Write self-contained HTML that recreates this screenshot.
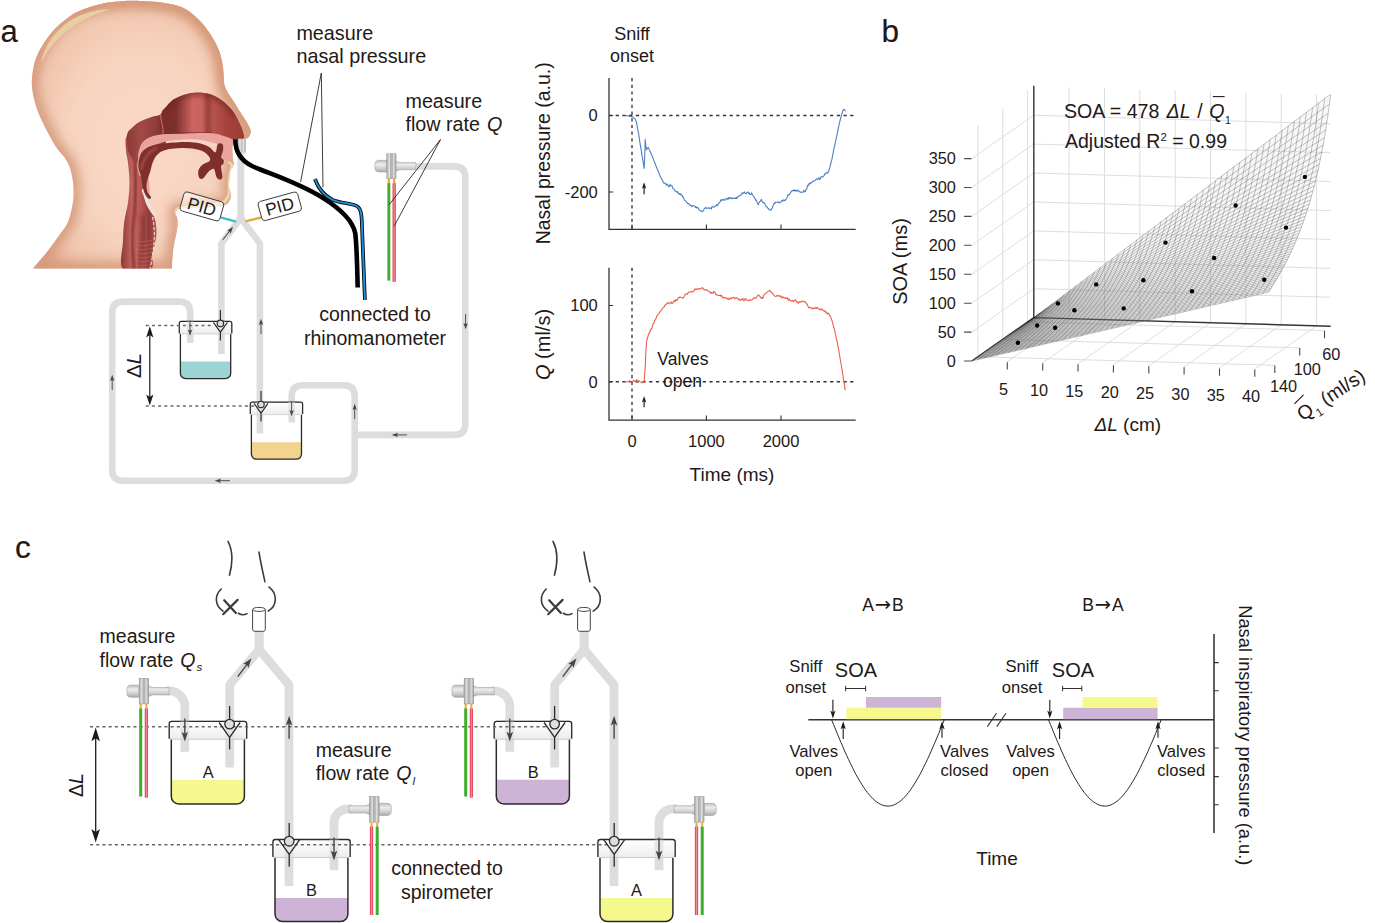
<!DOCTYPE html>
<html><head><meta charset="utf-8"><title>Figure</title>
<style>
html,body{margin:0;padding:0;background:#fff;}
svg{display:block}
text{font-family:"Liberation Sans",sans-serif;fill:#231815}
.it{font-style:italic}
</style></head><body>
<svg width="1375" height="923" viewBox="0 0 1375 923">
<rect width="1375" height="923" fill="#fff"/>
<defs>
<radialGradient id="skin" cx="0.52" cy="0.52" r="0.62" fx="0.5" fy="0.55">
<stop offset="0" stop-color="#f9d8c5"/><stop offset="0.55" stop-color="#f7d4c0"/><stop offset="0.85" stop-color="#f0c5ae"/><stop offset="1" stop-color="#e4ae94"/>
</radialGradient>
<clipPath id="headclip"><path d="M33.0,268.5C35.3,265.8 42.8,257.2 47.0,252.0C51.2,246.8 54.7,241.7 58.0,237.0C61.3,232.3 64.8,228.2 67.0,224.0C69.2,219.8 69.9,216.5 71.0,212.0C72.1,207.5 73.2,202.0 73.5,197.0C73.8,192.0 73.6,186.8 73.0,182.0C72.4,177.2 71.3,172.0 70.0,168.0C68.7,164.0 67.2,161.3 65.0,158.0C62.8,154.7 59.9,152.8 56.7,148.0C53.5,143.2 49.4,135.7 46.0,129.0C42.6,122.3 38.9,115.0 36.6,108.0C34.3,101.0 32.6,93.3 32.0,87.0C31.4,80.7 32.2,75.0 33.0,70.0C33.8,65.0 34.9,61.2 36.5,57.0C38.1,52.8 40.1,49.2 42.7,45.0C45.3,40.8 48.5,36.0 52.0,32.0C55.5,28.0 59.6,24.2 63.6,21.0C67.6,17.8 71.6,14.8 76.0,12.5C80.4,10.2 85.3,8.6 90.0,7.0C94.7,5.5 99.3,4.1 104.0,3.2C108.7,2.3 113.7,1.9 118.0,1.5C122.3,1.1 126.0,0.9 130.0,0.8C134.0,0.7 137.0,0.8 142.0,1.0C147.0,1.2 154.2,1.5 160.0,2.2C165.8,3.0 172.5,4.2 177.0,5.5C181.5,6.8 184.1,8.3 187.0,10.0C189.9,11.7 192.0,13.5 194.5,15.7C197.0,17.9 199.7,20.4 202.0,23.0C204.3,25.6 206.4,28.4 208.5,31.4C210.6,34.4 212.8,37.8 214.5,41.0C216.2,44.2 217.8,47.3 219.0,50.6C220.2,53.9 221.3,57.8 222.0,61.0C222.7,64.2 223.0,67.2 223.3,70.0C223.6,72.8 223.6,75.5 223.8,78.0C224.0,80.5 223.8,82.6 224.5,85.0C225.2,87.4 226.1,89.7 227.7,92.5C229.3,95.3 231.9,98.8 234.0,102.0C236.1,105.2 238.2,108.8 240.0,111.7C241.8,114.6 243.6,117.2 245.0,119.5C246.4,121.8 247.8,124.0 248.7,125.7C249.6,127.5 250.3,128.7 250.6,130.0C250.9,131.3 250.7,132.5 250.4,133.7C250.1,134.9 249.5,136.4 248.6,137.3C247.7,138.2 246.4,138.8 245.0,139.3C243.6,139.8 241.7,139.9 240.0,140.3C238.3,140.7 236.2,140.9 235.0,141.5C233.8,142.1 233.4,142.6 233.0,144.0C232.6,145.4 232.3,147.5 232.3,150.0C232.3,152.5 232.7,157.0 232.9,159.2C233.1,161.4 233.7,161.8 233.7,163.0C233.7,164.2 233.5,165.4 233.0,166.5C232.5,167.6 231.5,168.0 230.9,169.6C230.3,171.2 229.9,173.3 229.6,176.2C229.3,179.0 228.9,184.2 229.0,186.7C229.1,189.2 229.9,189.7 230.2,191.0C230.5,192.3 230.9,193.2 230.9,194.5C230.9,195.8 230.7,197.7 230.3,199.0C229.9,200.3 229.0,201.5 228.3,202.4C227.6,203.3 226.9,204.1 226.0,204.6C225.1,205.1 225.3,205.3 223.0,205.6C220.7,205.9 215.8,206.2 212.0,206.5C208.2,206.8 204.0,207.1 200.0,207.3C196.0,207.6 191.4,207.8 188.0,208.0C184.6,208.2 181.4,208.1 179.5,208.6C177.6,209.1 176.9,210.0 176.3,211.0C175.7,212.0 175.7,213.3 175.8,214.5C176.0,215.7 176.9,216.6 177.2,218.0C177.5,219.4 177.6,221.2 177.6,223.0C177.6,224.8 177.5,226.5 177.2,228.5C176.9,230.5 176.4,232.8 176.0,235.0C175.6,237.2 175.0,239.4 174.6,241.6C174.2,243.8 173.8,245.8 173.5,248.0C173.2,250.2 172.9,252.5 172.7,254.7C172.5,256.9 172.3,258.7 172.2,261.0C172.1,263.3 172.0,267.2 172.0,268.5Z"/></clipPath>
<filter id="blur3" x="-20%" y="-20%" width="140%" height="140%"><feGaussianBlur stdDeviation="3.2"/></filter>
<filter id="blur5" x="-20%" y="-20%" width="140%" height="140%"><feGaussianBlur stdDeviation="5.5"/></filter>
<filter id="blur1" x="-20%" y="-20%" width="140%" height="140%"><feGaussianBlur stdDeviation="1.2"/></filter>
<filter id="blur2" x="-20%" y="-20%" width="140%" height="140%"><feGaussianBlur stdDeviation="2"/></filter>
<linearGradient id="throatg" x1="0" x2="1" y1="0" y2="0">
<stop offset="0" stop-color="#8a3a36"/><stop offset="0.25" stop-color="#c46460"/><stop offset="0.45" stop-color="#b85652"/><stop offset="0.62" stop-color="#8e3b37"/><stop offset="0.8" stop-color="#b05350"/><stop offset="1" stop-color="#8a3936"/>
</linearGradient>
<linearGradient id="domeg" gradientUnits="userSpaceOnUse" x1="127" x2="244" y1="0" y2="0">
<stop offset="0" stop-color="#8a3a36"/><stop offset="0.12" stop-color="#a34a46"/><stop offset="0.26" stop-color="#8e3b37"/><stop offset="0.30" stop-color="#7b2d2a"/><stop offset="0.42" stop-color="#7f302c"/><stop offset="0.5" stop-color="#aa4f4b"/><stop offset="0.56" stop-color="#cb6562"/><stop offset="0.64" stop-color="#c9625f"/><stop offset="0.69" stop-color="#9a403d"/><stop offset="0.74" stop-color="#b8524e"/><stop offset="0.85" stop-color="#a5433e"/><stop offset="1" stop-color="#9b3b36"/>
</linearGradient>
</defs>
<path d="M33.0,268.5C35.3,265.8 42.8,257.2 47.0,252.0C51.2,246.8 54.7,241.7 58.0,237.0C61.3,232.3 64.8,228.2 67.0,224.0C69.2,219.8 69.9,216.5 71.0,212.0C72.1,207.5 73.2,202.0 73.5,197.0C73.8,192.0 73.6,186.8 73.0,182.0C72.4,177.2 71.3,172.0 70.0,168.0C68.7,164.0 67.2,161.3 65.0,158.0C62.8,154.7 59.9,152.8 56.7,148.0C53.5,143.2 49.4,135.7 46.0,129.0C42.6,122.3 38.9,115.0 36.6,108.0C34.3,101.0 32.6,93.3 32.0,87.0C31.4,80.7 32.2,75.0 33.0,70.0C33.8,65.0 34.9,61.2 36.5,57.0C38.1,52.8 40.1,49.2 42.7,45.0C45.3,40.8 48.5,36.0 52.0,32.0C55.5,28.0 59.6,24.2 63.6,21.0C67.6,17.8 71.6,14.8 76.0,12.5C80.4,10.2 85.3,8.6 90.0,7.0C94.7,5.5 99.3,4.1 104.0,3.2C108.7,2.3 113.7,1.9 118.0,1.5C122.3,1.1 126.0,0.9 130.0,0.8C134.0,0.7 137.0,0.8 142.0,1.0C147.0,1.2 154.2,1.5 160.0,2.2C165.8,3.0 172.5,4.2 177.0,5.5C181.5,6.8 184.1,8.3 187.0,10.0C189.9,11.7 192.0,13.5 194.5,15.7C197.0,17.9 199.7,20.4 202.0,23.0C204.3,25.6 206.4,28.4 208.5,31.4C210.6,34.4 212.8,37.8 214.5,41.0C216.2,44.2 217.8,47.3 219.0,50.6C220.2,53.9 221.3,57.8 222.0,61.0C222.7,64.2 223.0,67.2 223.3,70.0C223.6,72.8 223.6,75.5 223.8,78.0C224.0,80.5 223.8,82.6 224.5,85.0C225.2,87.4 226.1,89.7 227.7,92.5C229.3,95.3 231.9,98.8 234.0,102.0C236.1,105.2 238.2,108.8 240.0,111.7C241.8,114.6 243.6,117.2 245.0,119.5C246.4,121.8 247.8,124.0 248.7,125.7C249.6,127.5 250.3,128.7 250.6,130.0C250.9,131.3 250.7,132.5 250.4,133.7C250.1,134.9 249.5,136.4 248.6,137.3C247.7,138.2 246.4,138.8 245.0,139.3C243.6,139.8 241.7,139.9 240.0,140.3C238.3,140.7 236.2,140.9 235.0,141.5C233.8,142.1 233.4,142.6 233.0,144.0C232.6,145.4 232.3,147.5 232.3,150.0C232.3,152.5 232.7,157.0 232.9,159.2C233.1,161.4 233.7,161.8 233.7,163.0C233.7,164.2 233.5,165.4 233.0,166.5C232.5,167.6 231.5,168.0 230.9,169.6C230.3,171.2 229.9,173.3 229.6,176.2C229.3,179.0 228.9,184.2 229.0,186.7C229.1,189.2 229.9,189.7 230.2,191.0C230.5,192.3 230.9,193.2 230.9,194.5C230.9,195.8 230.7,197.7 230.3,199.0C229.9,200.3 229.0,201.5 228.3,202.4C227.6,203.3 226.9,204.1 226.0,204.6C225.1,205.1 225.3,205.3 223.0,205.6C220.7,205.9 215.8,206.2 212.0,206.5C208.2,206.8 204.0,207.1 200.0,207.3C196.0,207.6 191.4,207.8 188.0,208.0C184.6,208.2 181.4,208.1 179.5,208.6C177.6,209.1 176.9,210.0 176.3,211.0C175.7,212.0 175.7,213.3 175.8,214.5C176.0,215.7 176.9,216.6 177.2,218.0C177.5,219.4 177.6,221.2 177.6,223.0C177.6,224.8 177.5,226.5 177.2,228.5C176.9,230.5 176.4,232.8 176.0,235.0C175.6,237.2 175.0,239.4 174.6,241.6C174.2,243.8 173.8,245.8 173.5,248.0C173.2,250.2 172.9,252.5 172.7,254.7C172.5,256.9 172.3,258.7 172.2,261.0C172.1,263.3 172.0,267.2 172.0,268.5Z" fill="url(#skin)"/>
<g clip-path="url(#headclip)"><path d="M33.0,268.5C35.3,265.8 42.8,257.2 47.0,252.0C51.2,246.8 54.7,241.7 58.0,237.0C61.3,232.3 64.8,228.2 67.0,224.0C69.2,219.8 69.9,216.5 71.0,212.0C72.1,207.5 73.2,202.0 73.5,197.0C73.8,192.0 73.6,186.8 73.0,182.0C72.4,177.2 71.3,172.0 70.0,168.0C68.7,164.0 67.2,161.3 65.0,158.0C62.8,154.7 59.9,152.8 56.7,148.0C53.5,143.2 49.4,135.7 46.0,129.0C42.6,122.3 38.9,115.0 36.6,108.0C34.3,101.0 32.6,93.3 32.0,87.0C31.4,80.7 32.2,75.0 33.0,70.0C33.8,65.0 34.9,61.2 36.5,57.0C38.1,52.8 40.1,49.2 42.7,45.0C45.3,40.8 48.5,36.0 52.0,32.0C55.5,28.0 59.6,24.2 63.6,21.0C67.6,17.8 71.6,14.8 76.0,12.5C80.4,10.2 85.3,8.6 90.0,7.0C94.7,5.5 99.3,4.1 104.0,3.2C108.7,2.3 113.7,1.9 118.0,1.5C122.3,1.1 126.0,0.9 130.0,0.8C134.0,0.7 137.0,0.8 142.0,1.0C147.0,1.2 154.2,1.5 160.0,2.2C165.8,3.0 172.5,4.2 177.0,5.5C181.5,6.8 184.1,8.3 187.0,10.0C189.9,11.7 192.0,13.5 194.5,15.7C197.0,17.9 199.7,20.4 202.0,23.0C204.3,25.6 206.4,28.4 208.5,31.4C210.6,34.4 212.8,37.8 214.5,41.0C216.2,44.2 217.8,47.3 219.0,50.6C220.2,53.9 221.3,57.8 222.0,61.0C222.7,64.2 223.0,67.2 223.3,70.0C223.6,72.8 223.6,75.5 223.8,78.0C224.0,80.5 223.8,82.6 224.5,85.0C225.2,87.4 226.1,89.7 227.7,92.5C229.3,95.3 231.9,98.8 234.0,102.0C236.1,105.2 238.2,108.8 240.0,111.7C241.8,114.6 243.6,117.2 245.0,119.5C246.4,121.8 247.8,124.0 248.7,125.7C249.6,127.5 250.3,128.7 250.6,130.0C250.9,131.3 250.7,132.5 250.4,133.7C250.1,134.9 249.5,136.4 248.6,137.3C247.7,138.2 246.4,138.8 245.0,139.3C243.6,139.8 241.7,139.9 240.0,140.3C238.3,140.7 236.2,140.9 235.0,141.5C233.8,142.1 233.4,142.6 233.0,144.0C232.6,145.4 232.3,147.5 232.3,150.0C232.3,152.5 232.7,157.0 232.9,159.2C233.1,161.4 233.7,161.8 233.7,163.0C233.7,164.2 233.5,165.4 233.0,166.5C232.5,167.6 231.5,168.0 230.9,169.6C230.3,171.2 229.9,173.3 229.6,176.2C229.3,179.0 228.9,184.2 229.0,186.7C229.1,189.2 229.9,189.7 230.2,191.0C230.5,192.3 230.9,193.2 230.9,194.5C230.9,195.8 230.7,197.7 230.3,199.0C229.9,200.3 229.0,201.5 228.3,202.4C227.6,203.3 226.9,204.1 226.0,204.6C225.1,205.1 225.3,205.3 223.0,205.6C220.7,205.9 215.8,206.2 212.0,206.5C208.2,206.8 204.0,207.1 200.0,207.3C196.0,207.6 191.4,207.8 188.0,208.0C184.6,208.2 181.4,208.1 179.5,208.6C177.6,209.1 176.9,210.0 176.3,211.0C175.7,212.0 175.7,213.3 175.8,214.5C176.0,215.7 176.9,216.6 177.2,218.0C177.5,219.4 177.6,221.2 177.6,223.0C177.6,224.8 177.5,226.5 177.2,228.5C176.9,230.5 176.4,232.8 176.0,235.0C175.6,237.2 175.0,239.4 174.6,241.6C174.2,243.8 173.8,245.8 173.5,248.0C173.2,250.2 172.9,252.5 172.7,254.7C172.5,256.9 172.3,258.7 172.2,261.0C172.1,263.3 172.0,267.2 172.0,268.5Z" fill="none" stroke="#d59a7c" stroke-width="14" filter="url(#blur5)" opacity="0.95"/>
<path d="M70,14C100,-2 165,-4 195,16C212,30 222,52 223.5,75C224,84 226,91 232,100L251,131" fill="none" stroke="#d39472" stroke-width="10" filter="url(#blur5)" opacity="0.7"/>
<path d="M176,212 L178,268" stroke="#e3ab90" stroke-width="9" fill="none" filter="url(#blur3)" opacity="0.8"/>
<path d="M41.5,62 C45,44 58,27 76,17.5 C87,12 98,9.8 109,9.5 C99,12.8 90,16 80.5,21.5 C63,31.5 49,46 41.5,62Z" fill="#ebcfa6" stroke="#ebcfa6" stroke-width="0.4" opacity="0.95"/>
<path d="M126.8,136.3C124.5,140.0 125.8,145.6 126.0,150.0C126.2,154.4 127.4,157.6 128.0,163.0C128.6,168.4 129.5,176.1 129.5,182.7C129.5,189.3 128.9,195.8 128.0,202.4C127.1,209.0 125.0,215.5 124.2,222.0C123.4,228.5 123.2,233.8 123.0,241.6C122.8,249.4 118.4,264.4 123.0,269.0C127.6,273.6 145.5,271.4 150.4,269.0C155.3,266.6 151.4,260.4 152.4,254.7C153.4,249.0 155.9,240.9 156.3,235.0C156.7,229.1 156.1,223.4 155.0,219.4C153.9,215.4 151.6,213.8 150.0,211.0C148.4,208.2 146.6,205.6 145.5,202.4C144.4,199.2 143.9,195.4 143.5,192.0C143.1,188.6 142.6,185.3 143.2,182.0C143.8,178.7 145.9,175.7 147.0,172.0C148.1,168.3 148.5,163.7 150.0,160.0C151.5,156.3 153.3,153.0 156.0,150.0C158.7,147.0 167.0,145.0 166.0,142.0C165.0,139.0 154.3,134.3 150.0,132.0C145.7,129.7 143.9,127.3 140.0,128.0C136.1,128.7 129.1,132.6 126.8,136.3Z" fill="url(#throatg)"/>
<path d="M134,150 C136,175 137,200 133,225 C131,245 133,258 134,269" stroke="#7c302d" stroke-width="3" fill="none" filter="url(#blur1)" opacity="0.8"/>
<path d="M143,215 C146,230 141,250 139,269" stroke="#76302c" stroke-width="5" fill="none" filter="url(#blur2)" opacity="0.7"/>
<path d="M136,241 C142,242 148,242 152,240" stroke="#c87570" stroke-width="1.1" fill="none" opacity="0.45"/>
<path d="M136,245 C142,246 148,246 152,244" stroke="#c87570" stroke-width="1.1" fill="none" opacity="0.45"/>
<path d="M136,249 C142,250 148,250 152,248" stroke="#c87570" stroke-width="1.1" fill="none" opacity="0.45"/>
<path d="M136,253 C142,254 148,254 152,252" stroke="#c87570" stroke-width="1.1" fill="none" opacity="0.45"/>
<path d="M136,257 C142,258 148,258 152,256" stroke="#c87570" stroke-width="1.1" fill="none" opacity="0.45"/>
<path d="M136,261 C142,262 148,262 152,260" stroke="#c87570" stroke-width="1.1" fill="none" opacity="0.45"/>
<path d="M136,265 C142,266 148,266 152,264" stroke="#c87570" stroke-width="1.1" fill="none" opacity="0.45"/>
<path d="M152.5,217 C156,232 154,250 150,269" stroke="#f4e6e4" stroke-width="1.1" fill="none" stroke-dasharray="3.5,1.5"/>
<path d="M142,190 C145,200 150,209 156,217 C151,208 147,199 143.5,189Z" fill="#e9e4e2" stroke="#e9e4e2" stroke-width="1"/>
<path d="M137.5,168.0C137.1,165.3 137.5,162.4 137.6,160.0C137.7,157.6 137.3,156.2 138.0,153.3C138.7,150.4 140.0,145.5 141.9,142.8C143.8,140.1 146.2,138.3 149.7,136.9C153.2,135.5 158.0,134.8 162.8,134.3C167.6,133.8 171.5,133.9 178.5,133.7C185.5,133.5 198.1,132.9 204.7,133.0C211.2,133.1 213.9,133.5 217.8,134.3C221.7,135.1 226.1,136.4 228.3,137.6C230.5,138.8 230.5,139.3 231.2,141.5C231.9,143.7 232.1,148.2 232.4,150.7C232.7,153.2 233.2,155.1 233.0,156.5C232.8,157.9 232.5,158.7 231.5,159.3C230.5,159.9 228.3,160.1 227.0,160.0C225.7,159.9 224.3,159.3 223.5,158.5C222.7,157.7 222.4,156.8 222.0,155.0C221.6,153.2 222.3,150.0 221.0,148.0C219.7,146.0 218.2,144.4 214.0,143.0C209.8,141.6 202.0,140.0 196.0,139.5C190.0,139.0 184.0,139.4 178.0,140.0C172.0,140.6 164.7,141.3 160.0,143.0C155.3,144.7 152.3,147.2 150.0,150.0C147.7,152.8 147.2,156.7 146.0,160.0C144.8,163.3 144.0,167.3 143.0,170.0C142.0,172.7 140.9,176.3 140.0,176.0C139.1,175.7 137.9,170.7 137.5,168.0Z" fill="#eba3a0"/>
<path d="M146.5,174 C145,182 146,190 149.5,196 C150,188 149,181 148.5,174Z" fill="#e9a3a2"/>
<clipPath id="domeclip"><path d="M126.8,138.0C126.8,135.0 127.2,133.6 128.0,132.0C128.8,130.4 129.5,130.1 131.4,128.4C133.3,126.7 135.8,123.9 139.3,121.9C142.8,120.0 148.9,117.9 152.4,116.7C155.9,115.5 158.5,115.7 160.2,114.7C161.9,113.7 161.6,111.7 162.5,110.5C163.4,109.3 163.7,109.3 165.5,107.5C167.3,105.7 170.1,101.8 173.3,99.6C176.6,97.4 181.1,95.6 185.0,94.4C188.9,93.2 192.5,92.4 196.9,92.4C201.3,92.4 206.7,92.8 211.3,94.4C215.9,96.1 220.5,99.0 224.4,102.3C228.3,105.6 232.0,109.9 234.8,114.0C237.6,118.1 239.9,123.8 241.4,127.1C242.9,130.4 243.2,132.2 243.6,134.0C244.0,135.8 244.6,137.0 244.0,138.0C243.4,139.0 241.3,139.5 240.0,140.0C238.7,140.5 237.3,141.0 236.0,140.9C234.7,140.8 233.3,139.9 232.0,139.3C230.7,138.8 230.7,138.4 228.3,137.6C225.9,136.8 221.7,135.1 217.8,134.3C213.9,133.5 211.2,133.1 204.7,133.0C198.1,132.9 185.5,133.5 178.5,133.7C171.5,133.9 167.6,133.8 162.8,134.3C158.1,134.9 153.5,135.6 150.0,137.0C146.5,138.4 143.9,140.5 142.0,143.0C140.1,145.5 139.2,148.8 138.5,152.0C137.8,155.2 138.4,160.7 137.5,162.0C136.6,163.3 134.6,162.0 133.0,160.0C131.4,158.0 129.0,153.7 128.0,150.0C127.0,146.3 126.8,141.0 126.8,138.0Z"/></clipPath>
<path d="M126.8,138.0C126.8,135.0 127.2,133.6 128.0,132.0C128.8,130.4 129.5,130.1 131.4,128.4C133.3,126.7 135.8,123.9 139.3,121.9C142.8,120.0 148.9,117.9 152.4,116.7C155.9,115.5 158.5,115.7 160.2,114.7C161.9,113.7 161.6,111.7 162.5,110.5C163.4,109.3 163.7,109.3 165.5,107.5C167.3,105.7 170.1,101.8 173.3,99.6C176.6,97.4 181.1,95.6 185.0,94.4C188.9,93.2 192.5,92.4 196.9,92.4C201.3,92.4 206.7,92.8 211.3,94.4C215.9,96.1 220.5,99.0 224.4,102.3C228.3,105.6 232.0,109.9 234.8,114.0C237.6,118.1 239.9,123.8 241.4,127.1C242.9,130.4 243.2,132.2 243.6,134.0C244.0,135.8 244.6,137.0 244.0,138.0C243.4,139.0 241.3,139.5 240.0,140.0C238.7,140.5 237.3,141.0 236.0,140.9C234.7,140.8 233.3,139.9 232.0,139.3C230.7,138.8 230.7,138.4 228.3,137.6C225.9,136.8 221.7,135.1 217.8,134.3C213.9,133.5 211.2,133.1 204.7,133.0C198.1,132.9 185.5,133.5 178.5,133.7C171.5,133.9 167.6,133.8 162.8,134.3C158.1,134.9 153.5,135.6 150.0,137.0C146.5,138.4 143.9,140.5 142.0,143.0C140.1,145.5 139.2,148.8 138.5,152.0C137.8,155.2 138.4,160.7 137.5,162.0C136.6,163.3 134.6,162.0 133.0,160.0C131.4,158.0 129.0,153.7 128.0,150.0C127.0,146.3 126.8,141.0 126.8,138.0Z" fill="url(#domeg)"/><g clip-path="url(#domeclip)">
<path d="M160.5,115 C161,122 164,128 163,134" stroke="#d2706b" stroke-width="1" fill="none"/>
<path d="M166,133.5 L212,133" stroke="#7a2d2a" stroke-width="4" fill="none" filter="url(#blur1)" opacity="0.7"/>
<path d="M165,110 C172,100 184,94 197,92.5 C212,93 226,101 236,115" stroke="#6f2825" stroke-width="7" fill="none" filter="url(#blur2)" opacity="0.55"/></g>
<path d="M138.5,168.0C138.2,165.1 138.5,161.4 139.3,158.5C140.1,155.6 140.6,153.0 143.2,150.7C145.8,148.4 149.1,146.2 155.0,144.8C160.9,143.4 171.5,142.5 178.5,142.2C185.5,141.9 191.9,142.0 196.9,142.8C201.9,143.6 205.8,145.3 208.7,146.8C211.6,148.3 213.1,151.3 214.3,152.0C215.6,152.7 215.7,152.1 216.2,151.0C216.7,149.9 216.7,146.8 217.2,145.5C217.7,144.2 218.2,143.7 219.1,143.5C220.0,143.3 221.7,143.1 222.4,144.1C223.1,145.1 223.4,147.2 223.2,149.4C223.0,151.6 221.2,155.2 221.3,157.0C221.4,158.8 223.3,158.8 223.7,159.9C224.0,161.0 223.8,162.7 223.4,163.8C223.0,164.9 221.3,164.2 221.1,166.4C220.9,168.6 222.6,174.7 222.4,176.9C222.2,179.1 220.8,179.5 219.8,179.5C218.8,179.5 217.5,178.7 216.5,176.9C215.5,175.2 215.2,169.9 213.9,169.0C212.6,168.1 210.4,170.1 208.7,171.6C206.9,173.1 204.9,177.1 203.4,178.2C201.9,179.3 200.4,179.3 199.5,178.2C198.6,177.1 197.8,173.8 198.2,171.6C198.6,169.4 200.1,166.9 202.1,165.1C204.1,163.2 209.1,162.2 210.0,160.5C210.9,158.8 209.1,156.3 207.3,154.6C205.6,152.8 203.4,151.1 199.5,150.0C195.6,148.9 189.5,148.1 183.8,148.1C178.1,148.1 170.0,148.8 165.5,150.0C161.0,151.2 159.2,152.8 157.0,155.0C154.8,157.2 153.6,160.3 152.5,163.0C151.4,165.7 151.2,168.5 150.4,171.0C149.7,173.5 148.7,175.5 148.0,178.0C147.3,180.5 146.5,183.5 146.5,186.0C146.5,188.5 147.2,191.2 148.0,193.0C148.8,194.8 150.8,196.0 151.0,197.0C151.2,198.0 150.0,199.5 149.0,199.0C148.0,198.5 146.1,196.2 145.0,194.0C143.9,191.8 143.2,189.0 142.5,186.0C141.8,183.0 141.7,179.0 141.0,176.0C140.3,173.0 138.8,170.9 138.5,168.0Z" fill="#7e2f2b"/>
<path d="M141,170 C143,160 147,152 157,147.5" stroke="#b45854" stroke-width="2.2" fill="none" filter="url(#blur1)" opacity="0.8"/>
<path d="M229.5,162.5 C232.5,164 232.5,168 230.5,171 C229.3,176 228.8,183 229.2,190 C229.5,196 227,201 221,203.5 L178,208.5 C176,210 175.5,212 176,214" stroke="#ecd7aa" stroke-width="3" fill="none" stroke-linecap="round" opacity="0.95"/>
</g>
<defs>
<linearGradient id="metalv" x1="0" x2="0" y1="0" y2="1"><stop offset="0" stop-color="#bdbdbd"/><stop offset="0.35" stop-color="#ececec"/><stop offset="0.7" stop-color="#cfcfcf"/><stop offset="1" stop-color="#a9a9a9"/></linearGradient>
<linearGradient id="metalh" x1="0" x2="1" y1="0" y2="0"><stop offset="0" stop-color="#a8a8a8"/><stop offset="0.3" stop-color="#e6e6e6"/><stop offset="0.5" stop-color="#bdbdbd"/><stop offset="0.7" stop-color="#e2e2e2"/><stop offset="1" stop-color="#a5a5a5"/></linearGradient>
<linearGradient id="lidg" x1="0" x2="0" y1="0" y2="1"><stop offset="0" stop-color="#ffffff"/><stop offset="1" stop-color="#e9e9e9"/></linearGradient>
<g id="sensor">
  <!-- origin: centre of disc; disc spans x -4.6..4.6, y -12.4..12.4 ; nub to left, stem to right -->
  <path d="M-5,-5.9 H-12.5 a4,4 0 0 0 -4,4 v3.8 a4,4 0 0 0 4,4 H-5Z" fill="url(#metalv)" stroke="#9a9a9a" stroke-width="0.5"/>
  <path d="M4,-5.3 L8.3,-3.6 H24.5 V3.6 H8.3 L4,5.3Z" fill="url(#metalv)" stroke="#9a9a9a" stroke-width="0.5"/>
  <rect x="-4.6" y="-12.4" width="9.2" height="24.8" fill="url(#metalh)" stroke="#8e8e8e" stroke-width="0.5"/>
  <path d="M-0.8,-12.4V12.4M0.9,-12.4V12.4" stroke="#8a8a8a" stroke-width="0.5"/>
</g>
<g id="valve">
  <!-- origin: circle centre -->
  <path d="M0,-13.4V-3.2M-7,-1.1L0,8.8L7,-1.1M0,8.8V17" fill="none" stroke="#2b2b2b" stroke-width="1.15"/>
  <circle r="3.2" fill="#dedede" stroke="#2b2b2b" stroke-width="1.15"/>
</g>
<g id="valvec">
  <path d="M0,-18.2V-4.8M-10.5,-1.6L0,13.2L10.5,-1.6M0,13.2V25.5" fill="none" stroke="#2b2b2b" stroke-width="1.3"/>
  <circle r="4.8" fill="#dedede" stroke="#2b2b2b" stroke-width="1.3"/>
</g>
<g id="arr"><!-- small arrow pointing up, centre at origin, length 13 -->
  <path d="M0,6.5V-3" stroke="#444" stroke-width="0.8" fill="none"/>
  <path d="M0,-6.8L-1.9,-1.2L0,-2.4L1.9,-1.2Z" fill="#444"/>
</g>
</defs>
<path d="M414.0,166.4L454.3,166.4Q465.3,166.4 465.3,177.4L465.3,423.9Q465.3,434.9 454.3,434.9L357.0,434.9" fill="none" stroke="#dcdedd" stroke-width="6.6" stroke-linejoin="round"/>
<path d="M190.2,343.0L190.2,312.6Q190.2,301.6 179.2,301.6L123.2,301.6Q112.2,301.6 112.2,312.6L112.2,469.7Q112.2,480.7 123.2,480.7L343.7,480.7Q354.7,480.7 354.7,469.7L354.7,396.2Q354.7,385.2 343.7,385.2L302.7,385.2Q291.7,385.2 291.7,396.2L291.7,422.5" fill="none" stroke="#dcdedd" stroke-width="6.6" stroke-linejoin="round"/>
<path d="M240.8,142V222" fill="none" stroke="#dcdedd" stroke-width="7.0" stroke-linejoin="round"/>
<path d="M240.7,218L221.4,243.5V353.9" fill="none" stroke="#dcdedd" stroke-width="6.6" stroke-linejoin="round"/>
<path d="M240.7,218L259.9,243.5V433.6" fill="none" stroke="#dcdedd" stroke-width="6.6" stroke-linejoin="round"/>
<rect x="237.6" y="138.8" width="8.2" height="14" rx="1" fill="url(#metalh)"/>
<path d="M180.4,361.5H230.7V373.4a5.2,5.2 0 0 1 -5.2,5.2H185.6a5.2,5.2 0 0 1 -5.2,-5.2Z" fill="#9cd4d6"/><path d="M180.4,333.9V373.4a5.2,5.2 0 0 0 5.2,5.2H225.5a5.2,5.2 0 0 0 5.2,-5.2V333.9" fill="none" stroke="#2b2b2b" stroke-width="1.3"/>
<path d="M251.4,442.3H301.5V454.0a5.2,5.2 0 0 1 -5.2,5.2H256.6a5.2,5.2 0 0 1 -5.2,-5.2Z" fill="#f3d48f"/><path d="M251.4,414.6V454.0a5.2,5.2 0 0 0 5.2,5.2H296.3a5.2,5.2 0 0 0 5.2,-5.2V414.6" fill="none" stroke="#2b2b2b" stroke-width="1.3"/>
<rect x="179.3" y="321.4" width="52.5" height="12.5" rx="2" fill="url(#lidg)" fill-opacity="0.82" stroke="#c9c9c9" stroke-width="0.8"/><path d="M179.3,333.4V323.4a2,2 0 0 1 2,-2H229.8a2,2 0 0 1 2,2V333.4" fill="none" stroke="#2b2b2b" stroke-width="1.25"/>
<rect x="250.3" y="402.2" width="52.3" height="12.4" rx="2" fill="url(#lidg)" fill-opacity="0.82" stroke="#c9c9c9" stroke-width="0.8"/><path d="M250.3,414.1V404.2a2,2 0 0 1 2,-2H300.6a2,2 0 0 1 2,2V414.1" fill="none" stroke="#2b2b2b" stroke-width="1.25"/>
<g opacity="0.55">
<path d="M190.2,321.4V334" fill="none" stroke="#dcdedd" stroke-width="6.6" stroke-linejoin="round"/>
<path d="M221.4,321.4V334" fill="none" stroke="#dcdedd" stroke-width="6.6" stroke-linejoin="round"/>
<path d="M259.9,402V415" fill="none" stroke="#dcdedd" stroke-width="6.6" stroke-linejoin="round"/>
<path d="M291.7,402V415" fill="none" stroke="#dcdedd" stroke-width="6.6" stroke-linejoin="round"/>
</g>
<path d="M145.7,325.5H213.5M145.7,406H254" stroke="#6a6a6a" stroke-width="1.3" stroke-dasharray="3,3.2" fill="none"/>
<use href="#valve" x="220.4" y="323.4"/>
<use href="#valve" x="261" y="404.4"/>
<path d="M149.8,334V398" stroke="#231815" stroke-width="1.2"/>
<path d="M149.8,326.3L146.2,337.5L149.8,335L153.4,337.5Z" fill="#231815"/>
<path d="M149.8,405.6L146.2,394.4L149.8,396.9L153.4,394.4Z" fill="#231815"/>
<text transform="translate(141.2,365.5) rotate(-90)" text-anchor="middle" font-size="20.3">Δ<tspan class="it">L</tspan></text>
<use href="#arr" transform="translate(190.0,328.0) rotate(180) scale(1.15)"/>
<use href="#arr" transform="translate(291.6,408.5) rotate(180) scale(1.15)"/>
<use href="#arr" transform="translate(261.0,326.5) rotate(0) scale(1.15)"/>
<use href="#arr" transform="translate(112.2,382.5) rotate(0) scale(1.15)"/>
<use href="#arr" transform="translate(222.5,480.7) rotate(-90) scale(1.15)"/>
<use href="#arr" transform="translate(399.5,434.9) rotate(-90) scale(1.15)"/>
<use href="#arr" transform="translate(354.7,411.5) rotate(0) scale(1.15)"/>
<use href="#arr" transform="translate(465.6,321.5) rotate(180) scale(1.15)"/>
<use href="#arr" transform="translate(227.8,233.4) rotate(38) scale(1.25)"/>
<use href="#sensor" x="391.4" y="166.2"/>
<path d="M388.9,178.6V183.5M394.2,178.6V183.5" stroke="#f0a637" stroke-width="2.2"/>
<path d="M388.9,183.2V280.6" stroke="#3fae2a" stroke-width="3.1"/>
<path d="M394.2,183.2V281.8" stroke="#e64c62" stroke-width="3.4"/>
<path d="M394.2,183.2V281.8" stroke="#f08f96" stroke-width="1.1"/>
<path d="M390.9,183.2V280.6" stroke="#fff" stroke-width="0.6"/>
<path d="M235.3,139.5C235.3,152 241,161 253,166.5C272,174.5 300,183.5 322,197.4C340,208.5 352.5,220 355.2,233C356.8,245 357,262 357.7,287.5" fill="none" stroke="#000" stroke-width="4.6"/>
<path d="M314.9,179C318,187.5 324,195.5 332.2,199.6C340.5,203.5 351.5,203 356.8,206C361,208.6 361.4,214 361.8,221L362.7,245L364.9,300" fill="none" stroke="#000" stroke-width="3.7"/>
<path d="M314.9,179C318,187.5 324,195.5 332.2,199.6C340.5,203.5 351.5,203 356.8,206C361,208.6 361.4,214 361.8,221L362.7,245L364.9,300" fill="none" stroke="#1e8fd8" stroke-width="2"/>
<path d="M220.4,217.4L236.1,221.7" stroke="#3cbec6" stroke-width="2.3"/>
<path d="M245.3,221.3L261.7,217.4" stroke="#e2a93b" stroke-width="2.3"/>
<g transform="translate(201.8,206.7) rotate(16)"><rect x="-20.7" y="-10.2" width="41.4" height="19.8" rx="3.2" fill="#fff" fill-opacity="0.55" stroke="#3a3a3a" stroke-width="0.9"/><text y="5.9" text-anchor="middle" font-size="17.3">PID</text></g>
<g transform="translate(279.8,206.4) rotate(-15.4)"><rect x="-20.5" y="-10" width="41" height="19.8" rx="3.2" fill="#fff" stroke="#3a3a3a" stroke-width="0.9"/><text y="6" text-anchor="middle" font-size="17.3">PID</text></g>
<path d="M321.3,73L300.6,182M321.3,73L323,187.2M440.5,139.5L389.2,204.6M440.5,139.5L394.3,225.9" stroke="#231815" stroke-width="0.85" fill="none"/>
<text font-size="19.8"><tspan x="296.4" y="39.6">measure</tspan><tspan x="296.4" y="62.6">nasal pressure</tspan></text>
<text font-size="19.7"><tspan x="405.5" y="107.8">measure</tspan><tspan x="405.5" y="130.8">flow rate <tspan class="it" dx="1.5">Q</tspan></tspan></text>
<text font-size="19.5" text-anchor="middle"><tspan x="375" y="321.2">connected to</tspan><tspan x="375" y="344.5">rhinomanometer</tspan></text>
<text x="0.6" y="41.9" font-size="31" fill="#000" stroke="#000" stroke-width="0.15">a</text>
<path d="M609,78V229.4H855.7" fill="none" stroke="#333" stroke-width="1.3"/>
<path d="M609,115.5H613.2M609,192H613.2M706.4,229.4V224.6M781,229.4V224.6M632,229.4V224.6" stroke="#333" stroke-width="1.1"/>
<path d="M632,78V229.4M609,115.5H855.7" stroke="#333" stroke-width="1.35" stroke-dasharray="3.2,3.5" fill="none"/>
<path d="M624.7,115.5L625.3,115.6L625.9,115.6L626.5,115.7L627.2,115.7L627.8,115.8L628.4,116.0L629.0,116.1L629.6,116.3L630.2,116.4L630.8,116.5L631.4,116.6L632.0,116.5L632.6,116.8L633.2,117.4L633.8,118.0L634.4,118.3L635.0,118.8L635.8,120.6L636.5,122.4L637.2,126.0L637.8,129.5L638.5,133.0L639.2,137.4L639.8,141.8L640.5,146.2L641.2,150.1L641.8,154.2L642.5,158.1L643.3,163.4L644.1,168.4L644.7,158.0L645.2,139.4L645.8,146.0L646.5,150.0L647.3,148.0L648.3,147.5L648.9,148.7L649.5,150.1L650.1,151.6L650.8,152.8L651.4,154.2L652.0,155.6L652.6,157.0L653.2,158.6L653.8,160.4L654.4,161.7L655.0,163.3L655.6,164.9L656.2,166.5L656.8,168.1L657.5,169.6L658.1,171.0L658.7,172.6L659.4,174.2L660.0,175.8L660.6,177.0L661.1,178.1L661.7,179.2L662.3,179.8L662.9,181.6L663.4,182.3L664.0,183.3L664.6,183.0L665.1,183.2L665.7,183.7L666.3,185.3L666.9,184.2L667.4,184.1L668.0,185.3L668.6,186.6L669.1,186.9L669.7,185.5L670.2,184.4L670.8,185.7L671.3,185.8L671.9,185.6L672.5,187.3L673.0,188.5L673.6,188.8L674.2,189.3L674.7,189.9L675.3,191.2L675.9,191.5L676.4,191.8L677.0,192.3L677.6,191.5L678.2,193.1L678.8,194.0L679.4,194.5L679.9,193.4L680.5,193.9L681.1,195.4L681.7,194.8L682.3,195.7L682.9,197.4L683.5,197.3L684.1,199.4L684.8,200.2L685.4,200.6L686.0,201.5L686.6,202.3L687.2,202.7L687.8,203.8L688.4,203.5L689.0,203.8L689.6,205.1L690.2,205.5L690.8,205.0L691.4,205.9L691.9,206.8L692.5,206.2L693.1,205.4L693.7,205.8L694.3,206.1L694.8,206.3L695.4,207.5L696.0,206.7L696.6,208.1L697.2,207.4L697.8,207.5L698.4,208.6L699.0,209.7L699.5,210.3L700.1,210.5L700.7,210.7L701.3,211.0L701.9,211.6L702.5,211.6L703.2,210.6L703.8,209.7L704.5,208.3L705.2,208.0L705.9,207.4L706.5,208.6L707.1,208.4L707.8,207.9L708.4,207.7L709.0,208.0L709.6,208.5L710.2,208.0L710.8,208.1L711.4,209.0L712.0,206.7L712.6,206.3L713.2,206.9L713.8,207.3L714.4,207.0L715.0,206.1L715.5,206.1L716.1,205.7L716.7,204.7L717.3,205.8L717.8,204.9L718.4,203.6L719.0,202.9L719.6,202.3L720.2,201.9L720.7,199.8L721.3,199.9L721.9,200.7L722.5,199.6L723.0,199.5L723.6,199.9L724.2,199.8L724.8,200.4L725.4,198.7L726.0,198.6L726.6,198.5L727.2,199.1L727.8,199.7L728.4,197.6L729.0,198.8L729.6,197.8L730.1,198.5L730.7,197.5L731.3,198.0L731.9,198.8L732.4,198.4L733.0,198.3L733.6,198.6L734.1,198.3L734.7,197.9L735.3,198.5L735.8,198.4L736.4,197.4L737.0,198.6L737.6,196.7L738.1,196.8L738.7,196.0L739.3,195.7L739.9,195.8L740.4,195.4L741.0,195.3L741.6,193.8L742.1,192.9L742.7,193.7L743.3,193.0L743.9,192.5L744.4,191.9L745.0,193.2L745.6,193.4L746.2,193.9L746.7,192.6L747.3,192.4L747.8,191.8L748.4,192.8L749.0,193.9L749.5,193.1L750.0,194.2L750.6,194.5L751.2,194.1L751.7,192.8L752.4,195.0L753.0,195.6L753.7,196.1L754.3,197.4L755.0,198.5L755.7,200.3L756.3,200.1L757.0,201.9L757.6,203.5L758.3,204.8L758.9,203.1L759.5,201.5L760.2,201.4L760.8,200.3L761.4,199.4L762.1,201.6L762.8,202.4L763.5,202.2L764.1,203.3L764.8,203.4L765.5,205.5L766.1,206.7L766.7,206.7L767.2,207.2L767.8,208.2L768.4,208.4L769.0,209.5L769.5,209.4L770.1,210.1L770.7,210.1L771.3,209.9L771.8,208.2L772.4,207.9L773.0,205.8L773.6,204.6L774.1,203.0L774.7,203.7L775.3,202.2L775.9,202.4L776.5,202.3L777.1,202.3L777.6,201.8L778.2,202.0L778.8,203.0L779.4,202.3L780.0,202.2L780.6,202.4L781.1,201.7L781.7,200.6L782.2,200.3L782.8,201.2L783.4,199.9L783.9,199.7L784.5,200.6L785.1,200.4L785.6,199.4L786.2,199.1L786.8,198.2L787.4,196.5L787.9,195.0L788.5,194.5L789.1,194.9L789.8,193.9L790.4,192.8L791.0,192.0L791.7,190.7L792.3,190.6L792.9,190.3L793.4,191.1L794.0,189.8L794.5,190.8L795.1,190.8L795.6,190.0L796.2,191.2L796.8,191.2L797.3,190.0L797.9,190.2L798.4,191.1L799.0,191.1L799.6,191.8L800.2,192.1L800.7,192.2L801.3,192.0L801.9,192.5L802.5,192.3L803.1,192.1L803.7,190.3L804.2,191.2L804.8,191.9L805.4,191.2L806.1,189.2L806.8,188.9L807.5,185.7L808.1,185.1L808.7,185.5L809.3,183.1L809.9,183.1L810.4,183.8L811.0,182.8L811.6,182.6L812.1,182.5L812.7,181.3L813.3,181.0L813.9,180.9L814.4,181.1L815.0,180.6L815.6,180.1L816.1,179.1L816.7,178.9L817.2,179.5L817.8,179.2L818.3,178.3L818.9,177.7L819.4,179.4L820.0,179.3L820.5,178.8L821.1,176.4L821.7,176.8L822.2,176.7L822.8,177.2L823.3,176.5L823.9,175.6L824.4,175.3L825.0,173.4L825.6,173.9L826.1,173.5L826.7,172.4L827.3,172.8L827.9,173.1L828.4,171.0L829.0,170.1L829.6,168.3L830.1,166.2L830.7,164.0L831.2,161.8L831.8,159.8L832.4,156.8L833.0,153.5L833.6,150.4L834.2,147.5L834.8,145.0L835.3,142.6L835.9,140.0L836.4,137.3L837.0,134.8L837.6,131.6L838.2,128.6L838.9,125.7L839.5,122.9L840.2,120.0L840.9,117.2L841.6,114.5L842.2,112.8L842.8,111.1L843.4,109.3L844.0,109.5L844.5,109.9L845.5,111.1" fill="none" stroke="#4f7fc3" stroke-width="1.1" stroke-linejoin="round"/>
<path d="M644.1,194.3V185.2" stroke="#231815" stroke-width="1.15"/><path d="M644.1,182.2l-2.2,6.6l2.2,-1.5l2.2,1.5Z" fill="#231815"/>
<text font-size="18" text-anchor="middle"><tspan x="632" y="40.2">Sniff</tspan><tspan x="632" y="62.4">onset</tspan></text>
<text font-size="16.5" text-anchor="end"><tspan x="597.8" y="121.2">0</tspan><tspan x="597.8" y="197.7">-200</tspan></text>
<text transform="translate(550.4,153.3) rotate(-90)" text-anchor="middle" font-size="19.5">Nasal pressure (a.u.)</text>
<path d="M609,267.8V420.2H855.7" fill="none" stroke="#333" stroke-width="1.3"/>
<path d="M609,305.5H613.2M609,381.7H613.2M706.4,420.2V415.4M781,420.2V415.4M632,420.2V415.4" stroke="#333" stroke-width="1.1"/>
<path d="M632,267.8V420.2M609,381.7H855.7" stroke="#333" stroke-width="1.35" stroke-dasharray="3.2,3.5" fill="none"/>
<path d="M624.7,381.7L625.3,381.4L625.9,381.7L626.5,381.7L627.1,381.8L627.6,381.8L628.2,381.8L628.8,381.6L629.4,380.7L630.0,381.3L630.6,382.1L631.2,382.2L631.8,381.9L632.4,382.1L633.0,381.3L633.6,380.3L634.2,381.1L634.8,380.9L635.4,381.9L636.0,381.2L636.6,379.8L637.2,380.1L637.8,381.9L638.4,381.7L639.0,380.8L639.5,380.8L640.1,381.6L640.7,382.0L641.3,382.0L641.9,382.9L642.5,382.8L643.1,382.3L643.7,381.1L644.3,380.5L645.2,366.7L645.8,353.5L646.5,341.7L647.2,339.0L647.8,337.0L648.5,334.1L649.1,333.4L649.7,332.1L650.3,331.0L650.9,329.0L651.5,329.1L652.1,327.6L652.7,325.2L653.3,323.4L653.9,323.4L654.5,320.9L655.1,320.0L655.7,319.2L656.3,317.6L657.0,315.5L657.6,314.8L658.2,314.0L658.8,313.6L659.4,312.9L660.1,311.6L660.7,311.1L661.4,310.2L662.0,309.1L662.7,308.3L663.3,307.3L664.0,307.2L664.6,305.7L665.3,304.8L665.9,304.9L666.4,303.8L667.0,303.8L667.6,302.6L668.1,302.7L668.7,303.5L669.3,303.7L669.9,303.4L670.4,302.9L671.0,301.8L671.6,303.2L672.1,303.0L672.7,303.2L673.2,301.9L673.8,301.6L674.3,300.2L674.9,301.0L675.4,301.5L676.0,299.8L676.5,300.0L677.1,300.4L677.7,298.8L678.3,297.8L678.8,297.6L679.4,297.6L680.0,296.9L680.6,297.3L681.2,297.6L681.8,297.8L682.3,297.8L682.9,298.2L683.5,298.0L684.1,296.1L684.6,295.5L685.2,294.6L685.7,293.9L686.3,294.1L686.9,294.1L687.4,294.2L688.0,292.8L688.5,292.1L689.1,292.3L689.6,292.2L690.2,291.9L690.8,291.9L691.4,291.3L691.9,291.9L692.5,291.9L693.1,291.5L693.7,290.9L694.3,290.7L694.8,288.9L695.4,289.0L696.0,289.6L696.6,288.8L697.2,289.3L697.8,289.5L698.4,288.5L699.0,288.6L699.5,288.5L700.1,288.9L700.7,289.1L701.3,288.6L701.9,287.8L702.5,287.7L703.1,288.3L703.7,289.4L704.3,289.9L704.9,289.7L705.5,289.5L706.1,290.0L706.7,290.1L707.3,290.1L707.9,290.9L708.5,291.2L709.1,291.6L709.6,292.1L710.2,291.8L710.8,293.4L711.4,292.5L711.9,293.0L712.5,292.7L713.1,293.3L713.6,291.4L714.2,291.5L714.7,292.3L715.3,293.0L715.8,294.7L716.4,294.3L717.0,295.0L717.5,295.1L718.1,295.5L718.7,295.5L719.2,295.2L719.8,295.7L720.4,295.0L720.9,296.3L721.5,295.6L722.1,296.2L722.7,297.9L723.3,297.4L723.9,297.4L724.5,298.3L725.1,298.1L725.7,297.6L726.3,298.2L726.9,298.8L727.5,299.0L728.0,298.1L728.6,299.2L729.2,299.7L729.7,298.9L730.3,298.6L730.9,297.9L731.4,298.7L732.0,297.7L732.6,298.1L733.2,297.6L733.8,297.2L734.4,297.9L734.9,298.8L735.5,298.3L736.1,297.7L736.7,298.3L737.3,298.1L737.9,298.4L738.4,299.4L739.0,299.8L739.5,299.0L740.1,300.4L740.6,299.8L741.2,300.1L741.8,299.3L742.3,299.4L742.9,298.4L743.4,300.2L744.0,301.0L744.6,299.8L745.2,299.0L745.7,298.5L746.3,300.1L746.9,300.0L747.5,300.3L748.1,300.3L748.7,300.5L749.2,300.0L749.8,300.5L750.4,299.9L751.0,299.9L751.6,300.0L752.2,300.0L752.7,299.3L753.3,298.3L753.9,298.2L754.5,297.6L755.1,298.4L755.8,298.2L756.4,297.3L757.0,296.5L757.7,295.7L758.3,294.9L758.9,295.3L759.4,296.0L760.0,296.6L760.5,297.0L761.1,298.4L761.6,297.4L762.2,297.4L762.9,298.4L763.5,295.5L764.2,294.5L764.8,294.1L765.5,293.5L766.2,293.2L766.8,292.3L767.5,292.0L768.1,291.3L768.8,291.2L769.4,290.3L770.1,290.8L770.7,291.9L771.4,292.1L772.0,292.6L772.7,293.9L773.3,294.0L774.0,295.1L774.6,295.9L775.3,296.3L775.9,296.5L776.5,296.2L777.1,295.2L777.6,295.5L778.2,296.1L778.8,295.8L779.4,295.9L780.0,296.6L780.6,295.9L781.1,296.6L781.7,297.9L782.2,297.0L782.8,297.1L783.4,296.9L783.9,298.0L784.5,297.9L785.1,298.5L785.6,297.9L786.2,298.2L786.8,298.5L787.4,297.7L787.9,299.5L788.5,300.3L789.1,299.0L789.8,300.1L790.4,300.3L791.0,300.8L791.7,301.2L792.3,300.3L792.9,300.6L793.4,301.8L794.0,301.2L794.5,300.6L795.1,300.0L795.6,299.8L796.2,300.7L796.8,302.2L797.3,302.1L797.9,302.0L798.4,303.2L799.0,302.1L799.6,301.5L800.2,302.0L800.7,302.3L801.3,301.4L801.9,300.9L802.5,301.6L803.1,302.0L803.7,301.3L804.2,301.6L804.8,301.6L805.4,302.3L806.1,303.1L806.7,304.0L807.4,304.7L808.0,306.2L808.7,307.6L809.3,307.5L809.9,308.0L810.4,307.3L811.0,307.5L811.6,308.2L812.1,309.1L812.7,308.4L813.3,308.3L813.9,308.5L814.4,307.5L815.0,308.0L815.6,307.9L816.1,308.6L816.7,308.0L817.2,307.2L817.8,308.1L818.3,308.8L818.9,308.7L819.4,309.7L820.0,309.5L820.5,309.2L821.1,309.8L821.7,308.9L822.2,309.1L822.8,309.8L823.3,310.8L823.9,310.8L824.4,311.2L825.0,310.9L825.6,311.5L826.1,312.9L826.7,312.3L827.3,314.1L827.9,313.3L828.4,313.4L829.0,313.7L829.6,315.5L830.1,316.0L830.7,317.1L831.2,318.6L831.8,320.0L832.4,322.2L833.0,324.6L833.6,326.6L834.2,328.7L834.8,331.2L835.3,333.7L835.9,336.3L836.4,338.5L837.0,341.0L837.6,344.1L838.2,347.7L838.9,351.2L839.5,354.7L840.2,359.0L840.9,363.0L841.6,367.0L842.2,370.7L842.8,374.4L843.4,378.2L844.0,382.2L844.6,386.2L845.2,390.1" fill="none" stroke="#e8604c" stroke-width="1.1" stroke-linejoin="round"/>
<path d="M644.1,407.2V398.9" stroke="#231815" stroke-width="1.15"/><path d="M644.1,395.9l-2.2,6.6l2.2,-1.5l2.2,1.5Z" fill="#231815"/>
<text font-size="16.5" text-anchor="end"><tspan x="597.8" y="311.3">100</tspan><tspan x="597.8" y="387.5">0</tspan></text>
<text font-size="16.5" text-anchor="middle"><tspan x="632" y="446.6">0</tspan><tspan x="706.4" y="446.6">1000</tspan><tspan x="781" y="446.6">2000</tspan></text>
<text x="732" y="480.5" font-size="19" text-anchor="middle">Time (ms)</text>
<text transform="translate(550.4,344.5) rotate(-90)" text-anchor="middle" font-size="20"><tspan class="it">Q</tspan> (ml/s)</text>
<text font-size="17.5"><tspan x="657.3" y="364.5">Valves</tspan><tspan x="663" y="387">open</tspan></text>
<path d="M1033.8,288.7L1330.7,297.3M1033.8,259.8L1330.7,268.4M1033.8,230.9L1330.7,239.5M1033.8,201.9L1330.7,210.6M1033.8,173.0L1330.7,181.6M1033.8,144.1L1330.7,152.7M1033.8,115.2L1330.7,123.8M1069.1,318.6L1069.1,87.3M1104.5,319.7L1104.5,88.3M1139.8,320.7L1139.8,89.4M1175.2,321.7L1175.2,90.4M1210.5,322.7L1210.5,91.4M1245.9,323.8L1245.9,92.4M1281.2,324.8L1281.2,93.5M1316.6,325.8L1316.6,94.5M971.7,332.1L1033.8,288.7M971.7,303.2L1033.8,259.8M971.7,274.3L1033.8,230.9M971.7,245.3L1033.8,201.9M971.7,216.4L1033.8,173.0M971.7,187.5L1033.8,144.1M971.7,158.6L1033.8,115.2M977.9,356.7L977.9,125.3M1002.8,339.3L1002.8,108.0M1027.6,321.9L1027.6,90.6M1007.0,362.0L1069.1,318.6M1042.4,363.1L1104.5,319.7M1077.8,364.1L1139.8,320.7M1113.1,365.1L1175.2,321.7M1148.5,366.1L1210.5,322.7M1183.8,367.1L1245.9,323.8M1219.2,368.2L1281.2,324.8M1254.5,369.2L1316.6,325.8M977.9,356.7L1274.8,365.3M1002.8,339.3L1299.7,347.9M1027.6,321.9L1324.5,330.6" fill="none" stroke="#dadada" stroke-width="0.9"/>
<path d="M1033.8,317.6L1033.8,85.7M1033.8,317.6L1330.7,326.2M1033.8,317.6L971.7,361.0" fill="none" stroke="#333" stroke-width="1.4"/>
<path d="M971.7,361.0L1033.8,317.6L1039.9,313.0L1045.9,308.5L1052.0,303.9L1058.0,299.3L1064.1,294.8L1070.2,290.2L1076.2,285.7L1082.3,281.1L1088.3,276.5L1094.4,272.0L1100.5,267.4L1106.5,262.8L1112.6,258.3L1118.6,253.7L1124.7,249.2L1130.8,244.6L1136.8,240.0L1142.9,235.5L1148.9,230.9L1155.0,226.3L1161.1,221.8L1167.1,217.2L1173.2,212.7L1179.2,208.1L1185.3,203.5L1191.4,199.0L1197.4,194.4L1203.5,189.8L1209.5,185.3L1215.6,180.7L1221.7,176.1L1227.7,171.6L1233.8,167.0L1239.8,162.5L1245.9,157.9L1252.0,153.3L1258.0,148.8L1264.1,144.2L1270.1,139.6L1276.2,135.1L1282.3,130.5L1288.3,126.0L1294.4,121.4L1300.4,116.8L1306.5,112.3L1312.6,107.7L1318.6,103.1L1324.7,98.6L1330.7,94.9L1329.5,104.0L1328.2,113.3L1326.9,122.0L1325.7,130.1L1324.4,137.8L1323.1,145.0L1321.9,151.8L1320.6,158.3L1319.3,164.4L1318.1,170.2L1316.8,175.7L1315.5,181.0L1314.3,186.0L1313.0,190.8L1311.7,195.5L1310.5,199.9L1309.2,204.2L1307.9,208.3L1306.7,212.3L1305.4,216.1L1304.1,219.8L1302.9,223.4L1301.6,226.8L1300.3,230.2L1299.1,233.4L1297.8,236.6L1296.5,239.7L1295.3,242.7L1294.0,245.6L1292.7,248.4L1291.5,251.2L1290.2,253.9L1288.9,256.5L1287.7,259.1L1286.4,261.6L1285.1,264.1L1283.8,266.5L1282.6,268.8L1281.3,271.2L1280.0,273.4L1278.8,275.7L1277.5,277.9L1276.2,280.0L1275.0,282.1L1273.7,284.2L1272.4,286.3L1271.2,288.3L1269.9,290.3L1268.6,292.2L1262.6,293.6L1256.5,295.0L1250.5,296.4L1244.4,297.8L1238.3,299.2L1232.3,300.6L1226.2,302.0L1220.2,303.4L1214.1,304.8L1208.0,306.2L1202.0,307.7L1195.9,309.1L1189.9,310.5L1183.8,311.9L1177.7,313.3L1171.7,314.7L1165.6,316.1L1159.6,317.5L1153.5,318.9L1147.4,320.3L1141.4,321.7L1135.3,323.1L1129.3,324.5L1123.2,325.9L1117.1,327.3L1111.1,328.7L1105.0,330.1L1099.0,331.5L1092.9,332.9L1086.8,334.3L1080.8,335.7L1074.7,337.1L1068.7,338.5L1062.6,339.9L1056.5,341.3L1050.5,342.7L1044.4,344.2L1038.4,345.6L1032.3,347.0L1026.2,348.4L1020.2,349.8L1014.1,351.2L1008.1,352.6L1002.0,354.0L995.9,355.4L989.9,356.8L983.8,358.2L977.8,359.6L971.7,361.0Z" fill="#dedede" fill-opacity="0.25" stroke="none"/>
<path d="M1033.8,317.6L1329.6,94.9L1330.7,94.9M1032.5,318.5L1329.5,104.0M1031.3,319.4L1328.2,113.3M1030.0,320.3L1326.9,122.0M1028.7,321.1L1325.7,130.1M1027.5,322.0L1324.4,137.8M1026.2,322.9L1323.1,145.0M1024.9,323.8L1321.9,151.8M1023.7,324.7L1320.6,158.3M1022.4,325.6L1319.3,164.4M1021.1,326.5L1318.1,170.2M1019.9,327.3L1316.8,175.7M1018.6,328.2L1315.5,181.0M1017.3,329.1L1314.3,186.0M1016.1,330.0L1313.0,190.8M1014.8,330.9L1311.7,195.5M1013.5,331.8L1310.5,199.9M1012.3,332.7L1309.2,204.2M1011.0,333.5L1307.9,208.3M1009.7,334.4L1306.7,212.3M1008.5,335.3L1305.4,216.1M1007.2,336.2L1304.1,219.8M1005.9,337.1L1302.9,223.4M1004.7,338.0L1301.6,226.8M1003.4,338.9L1300.3,230.2M1002.1,339.7L1299.1,233.4M1000.8,340.6L1297.8,236.6M999.6,341.5L1296.5,239.7M998.3,342.4L1295.3,242.7M997.0,343.3L1294.0,245.6M995.8,344.2L1292.7,248.4M994.5,345.1L1291.5,251.2M993.2,345.9L1290.2,253.9M992.0,346.8L1288.9,256.5M990.7,347.7L1287.7,259.1M989.4,348.6L1286.4,261.6M988.2,349.5L1285.1,264.1M986.9,350.4L1283.8,266.5M985.6,351.3L1282.6,268.8M984.4,352.1L1281.3,271.2M983.1,353.0L1280.0,273.4M981.8,353.9L1278.8,275.7M980.6,354.8L1277.5,277.9M979.3,355.7L1276.2,280.0M978.0,356.6L1275.0,282.1M976.8,357.5L1273.7,284.2M975.5,358.3L1272.4,286.3M974.2,359.2L1271.2,288.3M973.0,360.1L1269.9,290.3M971.7,361.0L1268.6,292.2M1039.9,313.0L1038.6,314.1L1037.3,315.2L1036.1,316.2L1034.8,317.2L1033.5,318.3L1032.3,319.3L1031.0,320.3L1029.7,321.3L1028.5,322.3L1027.2,323.3L1025.9,324.2L1024.7,325.2L1023.4,326.2L1022.1,327.2L1020.8,328.1L1019.6,329.1L1018.3,330.0L1017.0,331.0L1015.8,331.9L1014.5,332.9L1013.2,333.8L1012.0,334.8L1010.7,335.7L1009.4,336.6L1008.2,337.6L1006.9,338.5L1005.6,339.4L1004.4,340.4L1003.1,341.3L1001.8,342.2L1000.6,343.1L999.3,344.1L998.0,345.0L996.8,345.9L995.5,346.8L994.2,347.7L993.0,348.7L991.7,349.6L990.4,350.5L989.2,351.4L987.9,352.3L986.6,353.2L985.4,354.1L984.1,355.1L982.8,356.0L981.6,356.9L980.3,357.8L979.0,358.7L977.8,359.6M1045.9,308.5L1044.7,309.7L1043.4,311.0L1042.1,312.2L1040.9,313.3L1039.6,314.5L1038.3,315.7L1037.0,316.8L1035.8,317.9L1034.5,319.0L1033.2,320.1L1032.0,321.2L1030.7,322.2L1029.4,323.3L1028.2,324.3L1026.9,325.4L1025.6,326.4L1024.4,327.4L1023.1,328.4L1021.8,329.4L1020.6,330.4L1019.3,331.4L1018.0,332.4L1016.8,333.4L1015.5,334.4L1014.2,335.4L1013.0,336.4L1011.7,337.4L1010.4,338.3L1009.2,339.3L1007.9,340.3L1006.6,341.2L1005.4,342.2L1004.1,343.1L1002.8,344.1L1001.6,345.0L1000.3,346.0L999.0,346.9L997.8,347.9L996.5,348.8L995.2,349.8L994.0,350.7L992.7,351.7L991.4,352.6L990.2,353.5L988.9,354.5L987.6,355.4L986.4,356.3L985.1,357.3L983.8,358.2M1052.0,303.9L1050.7,305.4L1049.4,306.8L1048.2,308.1L1046.9,309.4L1045.6,310.7L1044.4,312.0L1043.1,313.3L1041.8,314.5L1040.6,315.7L1039.3,316.9L1038.0,318.1L1036.8,319.2L1035.5,320.4L1034.2,321.5L1033.0,322.6L1031.7,323.7L1030.4,324.8L1029.2,325.9L1027.9,326.9L1026.6,328.0L1025.4,329.1L1024.1,330.1L1022.8,331.2L1021.6,332.2L1020.3,333.2L1019.0,334.3L1017.8,335.3L1016.5,336.3L1015.2,337.3L1014.0,338.3L1012.7,339.3L1011.4,340.3L1010.2,341.3L1008.9,342.3L1007.6,343.3L1006.4,344.3L1005.1,345.2L1003.8,346.2L1002.6,347.2L1001.3,348.2L1000.0,349.1L998.8,350.1L997.5,351.1L996.2,352.0L994.9,353.0L993.7,353.9L992.4,354.9L991.1,355.8L989.9,356.8M1058.0,299.3L1056.8,301.0L1055.5,302.5L1054.2,304.1L1053.0,305.6L1051.7,307.0L1050.4,308.4L1049.2,309.8L1047.9,311.1L1046.6,312.4L1045.4,313.7L1044.1,315.0L1042.8,316.2L1041.6,317.4L1040.3,318.6L1039.0,319.8L1037.8,321.0L1036.5,322.2L1035.2,323.3L1034.0,324.5L1032.7,325.6L1031.4,326.7L1030.2,327.8L1028.9,328.9L1027.6,330.0L1026.4,331.1L1025.1,332.1L1023.8,333.2L1022.6,334.3L1021.3,335.3L1020.0,336.4L1018.8,337.4L1017.5,338.4L1016.2,339.5L1015.0,340.5L1013.7,341.5L1012.4,342.5L1011.1,343.5L1009.9,344.5L1008.6,345.5L1007.3,346.5L1006.1,347.5L1004.8,348.5L1003.5,349.5L1002.3,350.5L1001.0,351.5L999.7,352.5L998.5,353.4L997.2,354.4L995.9,355.4M1064.1,294.8L1062.8,296.6L1061.6,298.3L1060.3,300.0L1059.0,301.7L1057.8,303.2L1056.5,304.8L1055.2,306.3L1054.0,307.7L1052.7,309.1L1051.4,310.5L1050.2,311.9L1048.9,313.2L1047.6,314.5L1046.4,315.8L1045.1,317.1L1043.8,318.3L1042.6,319.5L1041.3,320.8L1040.0,322.0L1038.8,323.1L1037.5,324.3L1036.2,325.5L1035.0,326.6L1033.7,327.8L1032.4,328.9L1031.1,330.0L1029.9,331.1L1028.6,332.2L1027.3,333.3L1026.1,334.4L1024.8,335.5L1023.5,336.5L1022.3,337.6L1021.0,338.7L1019.7,339.7L1018.5,340.8L1017.2,341.8L1015.9,342.8L1014.7,343.9L1013.4,344.9L1012.1,345.9L1010.9,346.9L1009.6,348.0L1008.3,349.0L1007.1,350.0L1005.8,351.0L1004.5,352.0L1003.3,353.0L1002.0,354.0M1070.2,290.2L1068.9,292.2L1067.6,294.1L1066.4,296.0L1065.1,297.8L1063.8,299.5L1062.6,301.1L1061.3,302.7L1060.0,304.3L1058.8,305.8L1057.5,307.3L1056.2,308.8L1055.0,310.2L1053.7,311.6L1052.4,313.0L1051.1,314.3L1049.9,315.6L1048.6,316.9L1047.3,318.2L1046.1,319.5L1044.8,320.7L1043.5,321.9L1042.3,323.2L1041.0,324.4L1039.7,325.5L1038.5,326.7L1037.2,327.9L1035.9,329.0L1034.7,330.2L1033.4,331.3L1032.1,332.4L1030.9,333.6L1029.6,334.7L1028.3,335.8L1027.1,336.9L1025.8,337.9L1024.5,339.0L1023.3,340.1L1022.0,341.2L1020.7,342.2L1019.5,343.3L1018.2,344.3L1016.9,345.4L1015.7,346.4L1014.4,347.5L1013.1,348.5L1011.9,349.5L1010.6,350.5L1009.3,351.6L1008.1,352.6M1076.2,285.7L1075.0,287.8L1073.7,289.9L1072.4,291.9L1071.2,293.9L1069.9,295.7L1068.6,297.5L1067.3,299.2L1066.1,300.9L1064.8,302.5L1063.5,304.1L1062.3,305.7L1061.0,307.2L1059.7,308.7L1058.5,310.1L1057.2,311.5L1055.9,312.9L1054.7,314.3L1053.4,315.7L1052.1,317.0L1050.9,318.3L1049.6,319.6L1048.3,320.8L1047.1,322.1L1045.8,323.3L1044.5,324.6L1043.3,325.8L1042.0,327.0L1040.7,328.2L1039.5,329.3L1038.2,330.5L1036.9,331.6L1035.7,332.8L1034.4,333.9L1033.1,335.1L1031.9,336.2L1030.6,337.3L1029.3,338.4L1028.1,339.5L1026.8,340.6L1025.5,341.7L1024.3,342.7L1023.0,343.8L1021.7,344.9L1020.5,345.9L1019.2,347.0L1017.9,348.0L1016.7,349.1L1015.4,350.1L1014.1,351.2M1082.3,281.1L1081.0,283.5L1079.7,285.7L1078.5,287.9L1077.2,290.0L1075.9,291.9L1074.7,293.9L1073.4,295.7L1072.1,297.5L1070.9,299.3L1069.6,300.9L1068.3,302.6L1067.1,304.2L1065.8,305.8L1064.5,307.3L1063.3,308.8L1062.0,310.2L1060.7,311.7L1059.5,313.1L1058.2,314.5L1056.9,315.8L1055.7,317.2L1054.4,318.5L1053.1,319.8L1051.9,321.1L1050.6,322.4L1049.3,323.6L1048.1,324.9L1046.8,326.1L1045.5,327.3L1044.3,328.5L1043.0,329.7L1041.7,330.9L1040.5,332.1L1039.2,333.2L1037.9,334.4L1036.7,335.5L1035.4,336.7L1034.1,337.8L1032.9,338.9L1031.6,340.0L1030.3,341.1L1029.1,342.2L1027.8,343.3L1026.5,344.4L1025.2,345.5L1024.0,346.6L1022.7,347.6L1021.4,348.7L1020.2,349.8M1088.3,276.5L1087.1,279.1L1085.8,281.5L1084.5,283.8L1083.3,286.1L1082.0,288.2L1080.7,290.2L1079.5,292.2L1078.2,294.1L1076.9,296.0L1075.7,297.8L1074.4,299.5L1073.1,301.2L1071.9,302.8L1070.6,304.4L1069.3,306.0L1068.1,307.6L1066.8,309.1L1065.5,310.5L1064.3,312.0L1063.0,313.4L1061.7,314.8L1060.5,316.2L1059.2,317.6L1057.9,318.9L1056.7,320.2L1055.4,321.5L1054.1,322.8L1052.9,324.1L1051.6,325.3L1050.3,326.6L1049.1,327.8L1047.8,329.0L1046.5,330.2L1045.3,331.4L1044.0,332.6L1042.7,333.8L1041.4,335.0L1040.2,336.1L1038.9,337.3L1037.6,338.4L1036.4,339.5L1035.1,340.7L1033.8,341.8L1032.6,342.9L1031.3,344.0L1030.0,345.1L1028.8,346.2L1027.5,347.3L1026.2,348.4M1094.4,272.0L1093.1,274.7L1091.9,277.3L1090.6,279.8L1089.3,282.2L1088.1,284.4L1086.8,286.6L1085.5,288.7L1084.3,290.7L1083.0,292.7L1081.7,294.6L1080.5,296.4L1079.2,298.2L1077.9,299.9L1076.7,301.6L1075.4,303.3L1074.1,304.9L1072.9,306.4L1071.6,308.0L1070.3,309.5L1069.1,311.0L1067.8,312.4L1066.5,313.9L1065.3,315.3L1064.0,316.7L1062.7,318.0L1061.4,319.4L1060.2,320.7L1058.9,322.0L1057.6,323.3L1056.4,324.6L1055.1,325.9L1053.8,327.2L1052.6,328.4L1051.3,329.6L1050.0,330.8L1048.8,332.1L1047.5,333.3L1046.2,334.4L1045.0,335.6L1043.7,336.8L1042.4,337.9L1041.2,339.1L1039.9,340.2L1038.6,341.4L1037.4,342.5L1036.1,343.6L1034.8,344.7L1033.6,345.9L1032.3,347.0M1100.5,267.4L1099.2,270.3L1097.9,273.1L1096.7,275.8L1095.4,278.3L1094.1,280.7L1092.9,283.0L1091.6,285.2L1090.3,287.3L1089.1,289.4L1087.8,291.4L1086.5,293.3L1085.3,295.2L1084.0,297.0L1082.7,298.8L1081.4,300.5L1080.2,302.2L1078.9,303.8L1077.6,305.4L1076.4,307.0L1075.1,308.5L1073.8,310.1L1072.6,311.6L1071.3,313.0L1070.0,314.5L1068.8,315.9L1067.5,317.3L1066.2,318.6L1065.0,320.0L1063.7,321.3L1062.4,322.7L1061.2,324.0L1059.9,325.3L1058.6,326.6L1057.4,327.8L1056.1,329.1L1054.8,330.3L1053.6,331.5L1052.3,332.8L1051.0,334.0L1049.8,335.2L1048.5,336.3L1047.2,337.5L1046.0,338.7L1044.7,339.9L1043.4,341.0L1042.2,342.2L1040.9,343.3L1039.6,344.4L1038.4,345.6M1106.5,262.8L1105.3,266.0L1104.0,268.9L1102.7,271.7L1101.5,274.4L1100.2,276.9L1098.9,279.3L1097.6,281.7L1096.4,283.9L1095.1,286.1L1093.8,288.2L1092.6,290.2L1091.3,292.2L1090.0,294.1L1088.8,295.9L1087.5,297.7L1086.2,299.5L1085.0,301.2L1083.7,302.9L1082.4,304.5L1081.2,306.1L1079.9,307.7L1078.6,309.2L1077.4,310.7L1076.1,312.2L1074.8,313.7L1073.6,315.1L1072.3,316.6L1071.0,318.0L1069.8,319.4L1068.5,320.7L1067.2,322.1L1066.0,323.4L1064.7,324.7L1063.4,326.0L1062.2,327.3L1060.9,328.6L1059.6,329.8L1058.4,331.1L1057.1,332.3L1055.8,333.5L1054.6,334.8L1053.3,336.0L1052.0,337.2L1050.8,338.3L1049.5,339.5L1048.2,340.7L1047.0,341.9L1045.7,343.0L1044.4,344.2M1112.6,258.3L1111.3,261.6L1110.0,264.7L1108.8,267.7L1107.5,270.5L1106.2,273.2L1105.0,275.7L1103.7,278.2L1102.4,280.5L1101.2,282.8L1099.9,285.0L1098.6,287.1L1097.4,289.2L1096.1,291.2L1094.8,293.1L1093.6,295.0L1092.3,296.8L1091.0,298.6L1089.8,300.3L1088.5,302.0L1087.2,303.7L1086.0,305.3L1084.7,306.9L1083.4,308.5L1082.2,310.0L1080.9,311.5L1079.6,313.0L1078.4,314.5L1077.1,315.9L1075.8,317.4L1074.6,318.8L1073.3,320.1L1072.0,321.5L1070.8,322.9L1069.5,324.2L1068.2,325.5L1067.0,326.8L1065.7,328.1L1064.4,329.4L1063.2,330.7L1061.9,331.9L1060.6,333.2L1059.4,334.4L1058.1,335.6L1056.8,336.8L1055.5,338.0L1054.3,339.2L1053.0,340.4L1051.7,341.6L1050.5,342.7M1118.6,253.7L1117.4,257.2L1116.1,260.5L1114.8,263.6L1113.6,266.6L1112.3,269.4L1111.0,272.1L1109.8,274.7L1108.5,277.1L1107.2,279.5L1106.0,281.8L1104.7,284.0L1103.4,286.2L1102.2,288.2L1100.9,290.2L1099.6,292.2L1098.4,294.1L1097.1,296.0L1095.8,297.8L1094.6,299.5L1093.3,301.2L1092.0,302.9L1090.8,304.6L1089.5,306.2L1088.2,307.8L1087.0,309.4L1085.7,310.9L1084.4,312.4L1083.2,313.9L1081.9,315.4L1080.6,316.8L1079.4,318.2L1078.1,319.6L1076.8,321.0L1075.6,322.4L1074.3,323.7L1073.0,325.1L1071.7,326.4L1070.5,327.7L1069.2,329.0L1067.9,330.3L1066.7,331.6L1065.4,332.8L1064.1,334.1L1062.9,335.3L1061.6,336.5L1060.3,337.7L1059.1,339.0L1057.8,340.2L1056.5,341.3M1124.7,249.2L1123.4,252.8L1122.2,256.3L1120.9,259.6L1119.6,262.7L1118.4,265.6L1117.1,268.5L1115.8,271.2L1114.6,273.7L1113.3,276.2L1112.0,278.6L1110.8,280.9L1109.5,283.2L1108.2,285.3L1107.0,287.4L1105.7,289.4L1104.4,291.4L1103.2,293.3L1101.9,295.2L1100.6,297.0L1099.4,298.8L1098.1,300.6L1096.8,302.3L1095.6,303.9L1094.3,305.6L1093.0,307.2L1091.7,308.8L1090.5,310.3L1089.2,311.9L1087.9,313.4L1086.7,314.9L1085.4,316.3L1084.1,317.8L1082.9,319.2L1081.6,320.6L1080.3,322.0L1079.1,323.3L1077.8,324.7L1076.5,326.0L1075.3,327.4L1074.0,328.7L1072.7,330.0L1071.5,331.2L1070.2,332.5L1068.9,333.8L1067.7,335.0L1066.4,336.3L1065.1,337.5L1063.9,338.7L1062.6,339.9M1130.8,244.6L1129.5,248.5L1128.2,252.1L1127.0,255.5L1125.7,258.8L1124.4,261.9L1123.2,264.8L1121.9,267.6L1120.6,270.3L1119.4,272.9L1118.1,275.4L1116.8,277.8L1115.6,280.1L1114.3,282.4L1113.0,284.6L1111.7,286.7L1110.5,288.7L1109.2,290.7L1107.9,292.6L1106.7,294.5L1105.4,296.4L1104.1,298.2L1102.9,299.9L1101.6,301.7L1100.3,303.4L1099.1,305.0L1097.8,306.7L1096.5,308.3L1095.3,309.8L1094.0,311.4L1092.7,312.9L1091.5,314.4L1090.2,315.9L1088.9,317.3L1087.7,318.8L1086.4,320.2L1085.1,321.6L1083.9,323.0L1082.6,324.3L1081.3,325.7L1080.1,327.0L1078.8,328.4L1077.5,329.7L1076.3,331.0L1075.0,332.3L1073.7,333.5L1072.5,334.8L1071.2,336.1L1069.9,337.3L1068.7,338.5M1136.8,240.0L1135.6,244.1L1134.3,247.9L1133.0,251.5L1131.8,254.9L1130.5,258.1L1129.2,261.2L1127.9,264.1L1126.7,266.9L1125.4,269.6L1124.1,272.2L1122.9,274.7L1121.6,277.1L1120.3,279.5L1119.1,281.7L1117.8,283.9L1116.5,286.0L1115.3,288.1L1114.0,290.1L1112.7,292.0L1111.5,293.9L1110.2,295.8L1108.9,297.6L1107.7,299.4L1106.4,301.1L1105.1,302.9L1103.9,304.5L1102.6,306.2L1101.3,307.8L1100.1,309.4L1098.8,310.9L1097.5,312.5L1096.3,314.0L1095.0,315.5L1093.7,317.0L1092.5,318.4L1091.2,319.8L1089.9,321.3L1088.7,322.7L1087.4,324.0L1086.1,325.4L1084.9,326.8L1083.6,328.1L1082.3,329.4L1081.1,330.7L1079.8,332.0L1078.5,333.3L1077.3,334.6L1076.0,335.9L1074.7,337.1M1142.9,235.5L1141.6,239.7L1140.3,243.7L1139.1,247.4L1137.8,251.0L1136.5,254.4L1135.3,257.6L1134.0,260.6L1132.7,263.5L1131.5,266.4L1130.2,269.0L1128.9,271.6L1127.7,274.1L1126.4,276.5L1125.1,278.9L1123.9,281.1L1122.6,283.3L1121.3,285.5L1120.1,287.5L1118.8,289.6L1117.5,291.5L1116.3,293.4L1115.0,295.3L1113.7,297.1L1112.5,298.9L1111.2,300.7L1109.9,302.4L1108.7,304.1L1107.4,305.8L1106.1,307.4L1104.9,309.0L1103.6,310.6L1102.3,312.1L1101.1,313.6L1099.8,315.2L1098.5,316.6L1097.3,318.1L1096.0,319.6L1094.7,321.0L1093.5,322.4L1092.2,323.8L1090.9,325.2L1089.7,326.5L1088.4,327.9L1087.1,329.2L1085.8,330.6L1084.6,331.9L1083.3,333.2L1082.0,334.5L1080.8,335.7M1148.9,230.9L1147.7,235.3L1146.4,239.5L1145.1,243.4L1143.9,247.1L1142.6,250.6L1141.3,253.9L1140.1,257.1L1138.8,260.2L1137.5,263.1L1136.3,265.9L1135.0,268.5L1133.7,271.1L1132.5,273.6L1131.2,276.0L1129.9,278.4L1128.7,280.6L1127.4,282.8L1126.1,285.0L1124.9,287.1L1123.6,289.1L1122.3,291.1L1121.1,293.0L1119.8,294.9L1118.5,296.7L1117.3,298.5L1116.0,300.3L1114.7,302.0L1113.5,303.7L1112.2,305.4L1110.9,307.0L1109.7,308.6L1108.4,310.2L1107.1,311.8L1105.9,313.3L1104.6,314.9L1103.3,316.4L1102.0,317.8L1100.8,319.3L1099.5,320.7L1098.2,322.2L1097.0,323.6L1095.7,325.0L1094.4,326.3L1093.2,327.7L1091.9,329.1L1090.6,330.4L1089.4,331.7L1088.1,333.0L1086.8,334.3M1155.0,226.3L1153.7,230.9L1152.5,235.3L1151.2,239.3L1149.9,243.2L1148.7,246.8L1147.4,250.3L1146.1,253.6L1144.9,256.8L1143.6,259.8L1142.3,262.7L1141.1,265.4L1139.8,268.1L1138.5,270.7L1137.3,273.2L1136.0,275.6L1134.7,278.0L1133.5,280.2L1132.2,282.4L1130.9,284.6L1129.7,286.6L1128.4,288.7L1127.1,290.7L1125.9,292.6L1124.6,294.5L1123.3,296.3L1122.0,298.2L1120.8,299.9L1119.5,301.7L1118.2,303.4L1117.0,305.1L1115.7,306.7L1114.4,308.4L1113.2,310.0L1111.9,311.5L1110.6,313.1L1109.4,314.6L1108.1,316.1L1106.8,317.6L1105.6,319.1L1104.3,320.5L1103.0,322.0L1101.8,323.4L1100.5,324.8L1099.2,326.2L1098.0,327.6L1096.7,328.9L1095.4,330.3L1094.2,331.6L1092.9,332.9M1161.1,221.8L1159.8,226.6L1158.5,231.1L1157.3,235.3L1156.0,239.3L1154.7,243.1L1153.5,246.7L1152.2,250.1L1150.9,253.4L1149.7,256.5L1148.4,259.5L1147.1,262.4L1145.9,265.1L1144.6,267.8L1143.3,270.4L1142.0,272.9L1140.8,275.3L1139.5,277.6L1138.2,279.9L1137.0,282.1L1135.7,284.2L1134.4,286.3L1133.2,288.3L1131.9,290.3L1130.6,292.3L1129.4,294.2L1128.1,296.0L1126.8,297.9L1125.6,299.7L1124.3,301.4L1123.0,303.1L1121.8,304.8L1120.5,306.5L1119.2,308.1L1118.0,309.7L1116.7,311.3L1115.4,312.9L1114.2,314.4L1112.9,315.9L1111.6,317.4L1110.4,318.9L1109.1,320.4L1107.8,321.8L1106.6,323.3L1105.3,324.7L1104.0,326.1L1102.8,327.5L1101.5,328.8L1100.2,330.2L1099.0,331.5M1167.1,217.2L1165.9,222.2L1164.6,226.9L1163.3,231.2L1162.1,235.4L1160.8,239.3L1159.5,243.0L1158.2,246.6L1157.0,250.0L1155.7,253.2L1154.4,256.3L1153.2,259.3L1151.9,262.1L1150.6,264.9L1149.4,267.5L1148.1,270.1L1146.8,272.6L1145.6,275.0L1144.3,277.3L1143.0,279.6L1141.8,281.8L1140.5,283.9L1139.2,286.0L1138.0,288.1L1136.7,290.1L1135.4,292.0L1134.2,293.9L1132.9,295.8L1131.6,297.6L1130.4,299.4L1129.1,301.2L1127.8,302.9L1126.6,304.6L1125.3,306.3L1124.0,307.9L1122.8,309.5L1121.5,311.1L1120.2,312.7L1119.0,314.3L1117.7,315.8L1116.4,317.3L1115.2,318.8L1113.9,320.3L1112.6,321.7L1111.4,323.1L1110.1,324.6L1108.8,326.0L1107.6,327.4L1106.3,328.7L1105.0,330.1M1173.2,212.7L1171.9,217.8L1170.6,222.6L1169.4,227.2L1168.1,231.5L1166.8,235.6L1165.6,239.4L1164.3,243.1L1163.0,246.6L1161.8,249.9L1160.5,253.1L1159.2,256.2L1158.0,259.1L1156.7,261.9L1155.4,264.7L1154.2,267.3L1152.9,269.9L1151.6,272.4L1150.4,274.8L1149.1,277.1L1147.8,279.3L1146.6,281.6L1145.3,283.7L1144.0,285.8L1142.8,287.8L1141.5,289.8L1140.2,291.8L1139.0,293.7L1137.7,295.6L1136.4,297.4L1135.2,299.2L1133.9,301.0L1132.6,302.7L1131.4,304.4L1130.1,306.1L1128.8,307.8L1127.6,309.4L1126.3,311.0L1125.0,312.6L1123.8,314.1L1122.5,315.7L1121.2,317.2L1120.0,318.7L1118.7,320.2L1117.4,321.6L1116.1,323.1L1114.9,324.5L1113.6,325.9L1112.3,327.3L1111.1,328.7M1179.2,208.1L1178.0,213.4L1176.7,218.4L1175.4,223.2L1174.2,227.6L1172.9,231.8L1171.6,235.8L1170.4,239.6L1169.1,243.2L1167.8,246.6L1166.6,249.9L1165.3,253.1L1164.0,256.1L1162.8,259.0L1161.5,261.8L1160.2,264.6L1159.0,267.2L1157.7,269.7L1156.4,272.2L1155.2,274.6L1153.9,276.9L1152.6,279.2L1151.4,281.4L1150.1,283.5L1148.8,285.6L1147.6,287.7L1146.3,289.7L1145.0,291.6L1143.8,293.5L1142.5,295.4L1141.2,297.3L1140.0,299.1L1138.7,300.8L1137.4,302.6L1136.2,304.3L1134.9,306.0L1133.6,307.6L1132.3,309.3L1131.1,310.9L1129.8,312.5L1128.5,314.0L1127.3,315.6L1126.0,317.1L1124.7,318.6L1123.5,320.1L1122.2,321.6L1120.9,323.0L1119.7,324.5L1118.4,325.9L1117.1,327.3M1185.3,203.5L1184.0,209.1L1182.8,214.2L1181.5,219.1L1180.2,223.7L1179.0,228.0L1177.7,232.1L1176.4,236.1L1175.2,239.8L1173.9,243.3L1172.6,246.7L1171.4,250.0L1170.1,253.1L1168.8,256.1L1167.6,259.0L1166.3,261.8L1165.0,264.5L1163.8,267.1L1162.5,269.6L1161.2,272.1L1160.0,274.5L1158.7,276.8L1157.4,279.1L1156.2,281.3L1154.9,283.4L1153.6,285.5L1152.3,287.5L1151.1,289.5L1149.8,291.5L1148.5,293.4L1147.3,295.3L1146.0,297.2L1144.7,299.0L1143.5,300.7L1142.2,302.5L1140.9,304.2L1139.7,305.9L1138.4,307.6L1137.1,309.2L1135.9,310.8L1134.6,312.4L1133.3,314.0L1132.1,315.5L1130.8,317.1L1129.5,318.6L1128.3,320.1L1127.0,321.6L1125.7,323.0L1124.5,324.5L1123.2,325.9M1191.4,199.0L1190.1,204.7L1188.8,210.0L1187.6,215.1L1186.3,219.8L1185.0,224.3L1183.8,228.5L1182.5,232.5L1181.2,236.4L1180.0,240.0L1178.7,243.5L1177.4,246.9L1176.2,250.1L1174.9,253.2L1173.6,256.2L1172.3,259.0L1171.1,261.8L1169.8,264.5L1168.5,267.1L1167.3,269.6L1166.0,272.0L1164.7,274.4L1163.5,276.7L1162.2,279.0L1160.9,281.2L1159.7,283.3L1158.4,285.4L1157.1,287.5L1155.9,289.5L1154.6,291.4L1153.3,293.4L1152.1,295.2L1150.8,297.1L1149.5,298.9L1148.3,300.7L1147.0,302.4L1145.7,304.2L1144.5,305.9L1143.2,307.5L1141.9,309.2L1140.7,310.8L1139.4,312.4L1138.1,314.0L1136.9,315.5L1135.6,317.1L1134.3,318.6L1133.1,320.1L1131.8,321.6L1130.5,323.0L1129.3,324.5M1197.4,194.4L1196.2,200.3L1194.9,205.8L1193.6,211.0L1192.4,215.9L1191.1,220.5L1189.8,224.9L1188.5,229.0L1187.3,233.0L1186.0,236.7L1184.7,240.3L1183.5,243.8L1182.2,247.1L1180.9,250.3L1179.7,253.3L1178.4,256.3L1177.1,259.1L1175.9,261.9L1174.6,264.5L1173.3,267.1L1172.1,269.6L1170.8,272.1L1169.5,274.4L1168.3,276.7L1167.0,279.0L1165.7,281.2L1164.5,283.3L1163.2,285.4L1161.9,287.4L1160.7,289.4L1159.4,291.4L1158.1,293.3L1156.9,295.2L1155.6,297.1L1154.3,298.9L1153.1,300.7L1151.8,302.4L1150.5,304.1L1149.3,305.8L1148.0,307.5L1146.7,309.2L1145.5,310.8L1144.2,312.4L1142.9,314.0L1141.7,315.6L1140.4,317.1L1139.1,318.6L1137.9,320.1L1136.6,321.6L1135.3,323.1M1203.5,189.8L1202.2,195.9L1200.9,201.6L1199.7,207.0L1198.4,212.0L1197.1,216.8L1195.9,221.3L1194.6,225.5L1193.3,229.6L1192.1,233.5L1190.8,237.2L1189.5,240.7L1188.3,244.1L1187.0,247.3L1185.7,250.5L1184.5,253.5L1183.2,256.4L1181.9,259.2L1180.7,262.0L1179.4,264.6L1178.1,267.2L1176.9,269.7L1175.6,272.1L1174.3,274.5L1173.1,276.8L1171.8,279.0L1170.5,281.2L1169.3,283.3L1168.0,285.4L1166.7,287.4L1165.5,289.4L1164.2,291.4L1162.9,293.3L1161.7,295.2L1160.4,297.1L1159.1,298.9L1157.9,300.7L1156.6,302.4L1155.3,304.2L1154.1,305.9L1152.8,307.5L1151.5,309.2L1150.3,310.8L1149.0,312.4L1147.7,314.0L1146.4,315.6L1145.2,317.2L1143.9,318.7L1142.6,320.2L1141.4,321.7M1209.5,185.3L1208.3,191.5L1207.0,197.4L1205.7,202.9L1204.5,208.1L1203.2,213.0L1201.9,217.6L1200.7,222.0L1199.4,226.2L1198.1,230.2L1196.9,234.0L1195.6,237.6L1194.3,241.1L1193.1,244.4L1191.8,247.6L1190.5,250.7L1189.3,253.7L1188.0,256.6L1186.7,259.4L1185.5,262.1L1184.2,264.7L1182.9,267.3L1181.7,269.8L1180.4,272.2L1179.1,274.5L1177.9,276.8L1176.6,279.1L1175.3,281.2L1174.1,283.4L1172.8,285.4L1171.5,287.5L1170.3,289.5L1169.0,291.4L1167.7,293.4L1166.5,295.3L1165.2,297.1L1163.9,298.9L1162.6,300.7L1161.4,302.5L1160.1,304.2L1158.8,305.9L1157.6,307.6L1156.3,309.3L1155.0,310.9L1153.8,312.5L1152.5,314.1L1151.2,315.7L1150.0,317.2L1148.7,318.8L1147.4,320.3M1215.6,180.7L1214.3,187.2L1213.1,193.2L1211.8,198.9L1210.5,204.2L1209.3,209.2L1208.0,214.0L1206.7,218.5L1205.5,222.8L1204.2,226.9L1202.9,230.8L1201.7,234.5L1200.4,238.1L1199.1,241.5L1197.9,244.8L1196.6,248.0L1195.3,251.0L1194.1,254.0L1192.8,256.9L1191.5,259.6L1190.3,262.3L1189.0,264.9L1187.7,267.5L1186.5,269.9L1185.2,272.3L1183.9,274.7L1182.6,276.9L1181.4,279.2L1180.1,281.3L1178.8,283.5L1177.6,285.5L1176.3,287.6L1175.0,289.6L1173.8,291.5L1172.5,293.4L1171.2,295.3L1170.0,297.2L1168.7,299.0L1167.4,300.8L1166.2,302.6L1164.9,304.3L1163.6,306.0L1162.4,307.7L1161.1,309.4L1159.8,311.0L1158.6,312.6L1157.3,314.2L1156.0,315.8L1154.8,317.3L1153.5,318.9M1221.7,176.1L1220.4,182.8L1219.1,189.0L1217.9,194.8L1216.6,200.3L1215.3,205.5L1214.1,210.4L1212.8,215.0L1211.5,219.4L1210.3,223.6L1209.0,227.6L1207.7,231.4L1206.5,235.1L1205.2,238.6L1203.9,242.0L1202.6,245.2L1201.4,248.4L1200.1,251.4L1198.8,254.3L1197.6,257.1L1196.3,259.9L1195.0,262.5L1193.8,265.1L1192.5,267.6L1191.2,270.1L1190.0,272.5L1188.7,274.8L1187.4,277.1L1186.2,279.3L1184.9,281.5L1183.6,283.6L1182.4,285.7L1181.1,287.7L1179.8,289.7L1178.6,291.6L1177.3,293.6L1176.0,295.4L1174.8,297.3L1173.5,299.1L1172.2,300.9L1171.0,302.7L1169.7,304.4L1168.4,306.1L1167.2,307.8L1165.9,309.5L1164.6,311.1L1163.4,312.7L1162.1,314.3L1160.8,315.9L1159.6,317.5M1227.7,171.6L1226.5,178.4L1225.2,184.8L1223.9,190.8L1222.7,196.4L1221.4,201.7L1220.1,206.7L1218.8,211.5L1217.6,216.0L1216.3,220.3L1215.0,224.4L1213.8,228.3L1212.5,232.1L1211.2,235.7L1210.0,239.1L1208.7,242.5L1207.4,245.7L1206.2,248.8L1204.9,251.7L1203.6,254.6L1202.4,257.4L1201.1,260.2L1199.8,262.8L1198.6,265.4L1197.3,267.9L1196.0,270.3L1194.8,272.7L1193.5,275.0L1192.2,277.3L1191.0,279.5L1189.7,281.6L1188.4,283.7L1187.2,285.8L1185.9,287.8L1184.6,289.8L1183.4,291.8L1182.1,293.7L1180.8,295.6L1179.6,297.4L1178.3,299.3L1177.0,301.1L1175.8,302.8L1174.5,304.6L1173.2,306.3L1172.0,308.0L1170.7,309.6L1169.4,311.3L1168.2,312.9L1166.9,314.5L1165.6,316.1M1233.8,167.0L1232.5,174.0L1231.2,180.6L1230.0,186.7L1228.7,192.5L1227.4,198.0L1226.2,203.1L1224.9,208.0L1223.6,212.6L1222.4,217.0L1221.1,221.2L1219.8,225.2L1218.6,229.1L1217.3,232.7L1216.0,236.3L1214.8,239.7L1213.5,243.0L1212.2,246.1L1211.0,249.2L1209.7,252.2L1208.4,255.0L1207.2,257.8L1205.9,260.5L1204.6,263.1L1203.4,265.7L1202.1,268.1L1200.8,270.6L1199.6,272.9L1198.3,275.2L1197.0,277.5L1195.8,279.7L1194.5,281.8L1193.2,283.9L1192.0,286.0L1190.7,288.0L1189.4,290.0L1188.2,292.0L1186.9,293.9L1185.6,295.8L1184.4,297.6L1183.1,299.4L1181.8,301.2L1180.6,303.0L1179.3,304.7L1178.0,306.4L1176.7,308.1L1175.5,309.8L1174.2,311.4L1172.9,313.1L1171.7,314.7M1239.8,162.5L1238.6,169.7L1237.3,176.4L1236.0,182.7L1234.8,188.6L1233.5,194.2L1232.2,199.5L1231.0,204.5L1229.7,209.2L1228.4,213.7L1227.2,218.0L1225.9,222.1L1224.6,226.1L1223.4,229.8L1222.1,233.4L1220.8,236.9L1219.6,240.3L1218.3,243.5L1217.0,246.6L1215.8,249.7L1214.5,252.6L1213.2,255.4L1212.0,258.2L1210.7,260.8L1209.4,263.4L1208.2,266.0L1206.9,268.4L1205.6,270.8L1204.4,273.2L1203.1,275.5L1201.8,277.7L1200.6,279.9L1199.3,282.1L1198.0,284.2L1196.8,286.2L1195.5,288.2L1194.2,290.2L1192.9,292.2L1191.7,294.1L1190.4,296.0L1189.1,297.8L1187.9,299.6L1186.6,301.4L1185.3,303.2L1184.1,304.9L1182.8,306.6L1181.5,308.3L1180.3,310.0L1179.0,311.6L1177.7,313.3M1245.9,157.9L1244.6,165.3L1243.4,172.2L1242.1,178.6L1240.8,184.7L1239.6,190.4L1238.3,195.8L1237.0,201.0L1235.8,205.8L1234.5,210.4L1233.2,214.8L1232.0,219.0L1230.7,223.1L1229.4,226.9L1228.2,230.6L1226.9,234.2L1225.6,237.6L1224.4,240.9L1223.1,244.1L1221.8,247.2L1220.6,250.2L1219.3,253.0L1218.0,255.8L1216.8,258.6L1215.5,261.2L1214.2,263.8L1212.9,266.3L1211.7,268.8L1210.4,271.2L1209.1,273.5L1207.9,275.8L1206.6,278.0L1205.3,280.2L1204.1,282.3L1202.8,284.4L1201.5,286.5L1200.3,288.5L1199.0,290.4L1197.7,292.4L1196.5,294.3L1195.2,296.2L1193.9,298.0L1192.7,299.8L1191.4,301.6L1190.1,303.4L1188.9,305.1L1187.6,306.9L1186.3,308.5L1185.1,310.2L1183.8,311.9M1252.0,153.3L1250.7,160.9L1249.4,168.0L1248.2,174.6L1246.9,180.8L1245.6,186.7L1244.4,192.2L1243.1,197.4L1241.8,202.4L1240.6,207.1L1239.3,211.6L1238.0,215.9L1236.8,220.0L1235.5,224.0L1234.2,227.8L1232.9,231.4L1231.7,234.9L1230.4,238.3L1229.1,241.5L1227.9,244.7L1226.6,247.7L1225.3,250.7L1224.1,253.5L1222.8,256.3L1221.5,259.0L1220.3,261.6L1219.0,264.2L1217.7,266.7L1216.5,269.1L1215.2,271.5L1213.9,273.8L1212.7,276.1L1211.4,278.3L1210.1,280.5L1208.9,282.6L1207.6,284.7L1206.3,286.7L1205.1,288.7L1203.8,290.7L1202.5,292.6L1201.3,294.6L1200.0,296.4L1198.7,298.3L1197.5,300.1L1196.2,301.9L1194.9,303.6L1193.7,305.4L1192.4,307.1L1191.1,308.8L1189.9,310.5M1258.0,148.8L1256.8,156.5L1255.5,163.8L1254.2,170.6L1253.0,176.9L1251.7,182.9L1250.4,188.6L1249.1,193.9L1247.9,199.0L1246.6,203.8L1245.3,208.4L1244.1,212.8L1242.8,217.0L1241.5,221.1L1240.3,224.9L1239.0,228.6L1237.7,232.2L1236.5,235.6L1235.2,239.0L1233.9,242.2L1232.7,245.3L1231.4,248.3L1230.1,251.2L1228.9,254.0L1227.6,256.8L1226.3,259.5L1225.1,262.1L1223.8,264.6L1222.5,267.1L1221.3,269.5L1220.0,271.9L1218.7,274.2L1217.5,276.4L1216.2,278.6L1214.9,280.8L1213.7,282.9L1212.4,285.0L1211.1,287.0L1209.9,289.0L1208.6,291.0L1207.3,292.9L1206.1,294.8L1204.8,296.7L1203.5,298.5L1202.3,300.4L1201.0,302.2L1199.7,303.9L1198.5,305.7L1197.2,307.4L1195.9,309.1M1264.1,144.2L1262.8,152.2L1261.5,159.6L1260.3,166.5L1259.0,173.0L1257.7,179.2L1256.5,184.9L1255.2,190.4L1253.9,195.6L1252.7,200.6L1251.4,205.3L1250.1,209.7L1248.9,214.0L1247.6,218.1L1246.3,222.1L1245.1,225.9L1243.8,229.5L1242.5,233.0L1241.3,236.4L1240.0,239.7L1238.7,242.9L1237.5,245.9L1236.2,248.9L1234.9,251.8L1233.7,254.6L1232.4,257.3L1231.1,259.9L1229.9,262.5L1228.6,265.0L1227.3,267.5L1226.1,269.9L1224.8,272.2L1223.5,274.5L1222.3,276.8L1221.0,279.0L1219.7,281.1L1218.5,283.2L1217.2,285.3L1215.9,287.3L1214.7,289.3L1213.4,291.3L1212.1,293.2L1210.9,295.1L1209.6,297.0L1208.3,298.8L1207.0,300.7L1205.8,302.4L1204.5,304.2L1203.2,305.9L1202.0,307.7M1270.1,139.6L1268.9,147.8L1267.6,155.4L1266.3,162.5L1265.1,169.1L1263.8,175.4L1262.5,181.3L1261.3,186.9L1260.0,192.2L1258.7,197.3L1257.5,202.1L1256.2,206.6L1254.9,211.0L1253.7,215.2L1252.4,219.2L1251.1,223.1L1249.9,226.8L1248.6,230.4L1247.3,233.9L1246.1,237.2L1244.8,240.4L1243.5,243.5L1242.3,246.6L1241.0,249.5L1239.7,252.4L1238.5,255.1L1237.2,257.8L1235.9,260.4L1234.7,263.0L1233.4,265.5L1232.1,267.9L1230.9,270.3L1229.6,272.7L1228.3,274.9L1227.1,277.2L1225.8,279.4L1224.5,281.5L1223.2,283.6L1222.0,285.7L1220.7,287.7L1219.4,289.7L1218.2,291.6L1216.9,293.6L1215.6,295.5L1214.4,297.3L1213.1,299.2L1211.8,301.0L1210.6,302.8L1209.3,304.5L1208.0,306.2M1276.2,135.1L1274.9,143.4L1273.7,151.2L1272.4,158.4L1271.1,165.2L1269.9,171.6L1268.6,177.7L1267.3,183.4L1266.1,188.8L1264.8,194.0L1263.5,198.9L1262.3,203.6L1261.0,208.0L1259.7,212.3L1258.5,216.4L1257.2,220.3L1255.9,224.1L1254.7,227.8L1253.4,231.3L1252.1,234.7L1250.9,238.0L1249.6,241.2L1248.3,244.2L1247.1,247.2L1245.8,250.1L1244.5,253.0L1243.2,255.7L1242.0,258.4L1240.7,261.0L1239.4,263.5L1238.2,266.0L1236.9,268.4L1235.6,270.8L1234.4,273.1L1233.1,275.4L1231.8,277.6L1230.6,279.8L1229.3,281.9L1228.0,284.0L1226.8,286.0L1225.5,288.1L1224.2,290.0L1223.0,292.0L1221.7,293.9L1220.4,295.8L1219.2,297.7L1217.9,299.5L1216.6,301.3L1215.4,303.1L1214.1,304.8M1282.3,130.5L1281.0,139.0L1279.7,147.0L1278.5,154.4L1277.2,161.3L1275.9,167.9L1274.7,174.1L1273.4,179.9L1272.1,185.4L1270.9,190.7L1269.6,195.7L1268.3,200.5L1267.1,205.0L1265.8,209.4L1264.5,213.6L1263.2,217.6L1262.0,221.4L1260.7,225.2L1259.4,228.7L1258.2,232.2L1256.9,235.6L1255.6,238.8L1254.4,241.9L1253.1,245.0L1251.8,247.9L1250.6,250.8L1249.3,253.6L1248.0,256.3L1246.8,258.9L1245.5,261.5L1244.2,264.0L1243.0,266.5L1241.7,268.9L1240.4,271.2L1239.2,273.5L1237.9,275.8L1236.6,278.0L1235.4,280.2L1234.1,282.3L1232.8,284.4L1231.6,286.4L1230.3,288.4L1229.0,290.4L1227.8,292.4L1226.5,294.3L1225.2,296.2L1224.0,298.0L1222.7,299.9L1221.4,301.7L1220.2,303.4M1288.3,126.0L1287.1,134.6L1285.8,142.7L1284.5,150.3L1283.3,157.4L1282.0,164.1L1280.7,170.4L1279.4,176.4L1278.2,182.0L1276.9,187.4L1275.6,192.5L1274.4,197.4L1273.1,202.0L1271.8,206.5L1270.6,210.7L1269.3,214.8L1268.0,218.8L1266.8,222.5L1265.5,226.2L1264.2,229.7L1263.0,233.1L1261.7,236.4L1260.4,239.6L1259.2,242.7L1257.9,245.7L1256.6,248.6L1255.4,251.5L1254.1,254.2L1252.8,256.9L1251.6,259.5L1250.3,262.1L1249.0,264.6L1247.8,267.0L1246.5,269.4L1245.2,271.7L1244.0,274.0L1242.7,276.3L1241.4,278.5L1240.2,280.6L1238.9,282.7L1237.6,284.8L1236.4,286.8L1235.1,288.9L1233.8,290.8L1232.6,292.8L1231.3,294.7L1230.0,296.6L1228.8,298.4L1227.5,300.2L1226.2,302.0M1294.4,121.4L1293.1,130.3L1291.8,138.5L1290.6,146.3L1289.3,153.5L1288.0,160.4L1286.8,166.8L1285.5,172.9L1284.2,178.6L1283.0,184.1L1281.7,189.3L1280.4,194.3L1279.2,199.0L1277.9,203.5L1276.6,207.9L1275.4,212.1L1274.1,216.1L1272.8,219.9L1271.6,223.6L1270.3,227.2L1269.0,230.7L1267.8,234.0L1266.5,237.3L1265.2,240.4L1264.0,243.5L1262.7,246.4L1261.4,249.3L1260.2,252.1L1258.9,254.9L1257.6,257.5L1256.4,260.1L1255.1,262.7L1253.8,265.1L1252.6,267.6L1251.3,269.9L1250.0,272.3L1248.8,274.5L1247.5,276.8L1246.2,278.9L1245.0,281.1L1243.7,283.2L1242.4,285.3L1241.2,287.3L1239.9,289.3L1238.6,291.2L1237.3,293.2L1236.1,295.1L1234.8,297.0L1233.5,298.8L1232.3,300.6M1300.4,116.8L1299.2,125.9L1297.9,134.3L1296.6,142.2L1295.4,149.6L1294.1,156.6L1292.8,163.2L1291.6,169.4L1290.3,175.2L1289.0,180.8L1287.8,186.1L1286.5,191.2L1285.2,196.0L1284.0,200.6L1282.7,205.0L1281.4,209.3L1280.2,213.4L1278.9,217.3L1277.6,221.1L1276.4,224.7L1275.1,228.3L1273.8,231.7L1272.6,235.0L1271.3,238.2L1270.0,241.3L1268.8,244.3L1267.5,247.2L1266.2,250.1L1265.0,252.8L1263.7,255.5L1262.4,258.2L1261.2,260.7L1259.9,263.3L1258.6,265.7L1257.4,268.1L1256.1,270.5L1254.8,272.8L1253.5,275.0L1252.3,277.3L1251.0,279.4L1249.7,281.6L1248.5,283.7L1247.2,285.7L1245.9,287.7L1244.7,289.7L1243.4,291.7L1242.1,293.6L1240.9,295.5L1239.6,297.4L1238.3,299.2M1306.5,112.3L1305.2,121.5L1304.0,130.1L1302.7,138.2L1301.4,145.7L1300.2,152.8L1298.9,159.5L1297.6,165.9L1296.4,171.8L1295.1,177.5L1293.8,182.9L1292.6,188.1L1291.3,193.0L1290.0,197.7L1288.8,202.2L1287.5,206.5L1286.2,210.7L1285.0,214.7L1283.7,218.5L1282.4,222.2L1281.2,225.8L1279.9,229.3L1278.6,232.6L1277.4,235.9L1276.1,239.0L1274.8,242.1L1273.5,245.1L1272.3,248.0L1271.0,250.8L1269.7,253.5L1268.5,256.2L1267.2,258.8L1265.9,261.4L1264.7,263.9L1263.4,266.3L1262.1,268.7L1260.9,271.0L1259.6,273.3L1258.3,275.6L1257.1,277.8L1255.8,279.9L1254.5,282.1L1253.3,284.1L1252.0,286.2L1250.7,288.2L1249.5,290.2L1248.2,292.1L1246.9,294.1L1245.7,296.0L1244.4,297.8M1312.6,107.7L1311.3,117.1L1310.0,125.9L1308.8,134.1L1307.5,141.8L1306.2,149.1L1305.0,155.9L1303.7,162.3L1302.4,168.4L1301.2,174.2L1299.9,179.7L1298.6,185.0L1297.4,190.0L1296.1,194.8L1294.8,199.4L1293.5,203.8L1292.3,208.0L1291.0,212.1L1289.7,216.0L1288.5,219.7L1287.2,223.4L1285.9,226.9L1284.7,230.3L1283.4,233.6L1282.1,236.8L1280.9,239.9L1279.6,243.0L1278.3,245.9L1277.1,248.8L1275.8,251.5L1274.5,254.3L1273.3,256.9L1272.0,259.5L1270.7,262.0L1269.5,264.5L1268.2,266.9L1266.9,269.3L1265.7,271.6L1264.4,273.9L1263.1,276.1L1261.9,278.3L1260.6,280.5L1259.3,282.6L1258.1,284.6L1256.8,286.7L1255.5,288.7L1254.3,290.7L1253.0,292.6L1251.7,294.5L1250.5,296.4M1318.6,103.1L1317.4,112.8L1316.1,121.7L1314.8,130.1L1313.6,137.9L1312.3,145.3L1311.0,152.3L1309.7,158.8L1308.5,165.0L1307.2,170.9L1305.9,176.6L1304.7,181.9L1303.4,187.0L1302.1,191.9L1300.9,196.5L1299.6,201.0L1298.3,205.3L1297.1,209.4L1295.8,213.4L1294.5,217.2L1293.3,221.0L1292.0,224.5L1290.7,228.0L1289.5,231.4L1288.2,234.6L1286.9,237.8L1285.7,240.8L1284.4,243.8L1283.1,246.7L1281.9,249.6L1280.6,252.3L1279.3,255.0L1278.1,257.6L1276.8,260.2L1275.5,262.7L1274.3,265.1L1273.0,267.6L1271.7,269.9L1270.5,272.2L1269.2,274.5L1267.9,276.7L1266.7,278.9L1265.4,281.0L1264.1,283.1L1262.9,285.2L1261.6,287.2L1260.3,289.2L1259.1,291.2L1257.8,293.1L1256.5,295.0M1324.7,98.6L1323.4,108.4L1322.1,117.5L1320.9,126.0L1319.6,134.0L1318.3,141.6L1317.1,148.6L1315.8,155.3L1314.5,161.6L1313.3,167.7L1312.0,173.4L1310.7,178.8L1309.5,184.0L1308.2,188.9L1306.9,193.7L1305.7,198.2L1304.4,202.6L1303.1,206.8L1301.9,210.9L1300.6,214.8L1299.3,218.5L1298.1,222.2L1296.8,225.7L1295.5,229.1L1294.3,232.4L1293.0,235.6L1291.7,238.7L1290.5,241.7L1289.2,244.7L1287.9,247.6L1286.7,250.4L1285.4,253.1L1284.1,255.7L1282.9,258.3L1281.6,260.9L1280.3,263.4L1279.1,265.8L1277.8,268.2L1276.5,270.5L1275.3,272.8L1274.0,275.1L1272.7,277.3L1271.5,279.4L1270.2,281.6L1268.9,283.7L1267.6,285.7L1266.4,287.7L1265.1,289.7L1263.8,291.7L1262.6,293.6M1330.7,94.9L1329.5,104.0L1328.2,113.3L1326.9,122.0L1325.7,130.1L1324.4,137.8L1323.1,145.0L1321.9,151.8L1320.6,158.3L1319.3,164.4L1318.1,170.2L1316.8,175.7L1315.5,181.0L1314.3,186.0L1313.0,190.8L1311.7,195.5L1310.5,199.9L1309.2,204.2L1307.9,208.3L1306.7,212.3L1305.4,216.1L1304.1,219.8L1302.9,223.4L1301.6,226.8L1300.3,230.2L1299.1,233.4L1297.8,236.6L1296.5,239.7L1295.3,242.7L1294.0,245.6L1292.7,248.4L1291.5,251.2L1290.2,253.9L1288.9,256.5L1287.7,259.1L1286.4,261.6L1285.1,264.1L1283.8,266.5L1282.6,268.8L1281.3,271.2L1280.0,273.4L1278.8,275.7L1277.5,277.9L1276.2,280.0L1275.0,282.1L1273.7,284.2L1272.4,286.3L1271.2,288.3L1269.9,290.3L1268.6,292.2" fill="none" stroke="#222" stroke-opacity="0.62" stroke-width="0.43"/>
<path d="M964.1,361.0H971.5M964.1,332.1H971.5M964.1,303.2H971.5M964.1,274.3H971.5M964.1,245.3H971.5M964.1,216.4H971.5M964.1,187.5H971.5M964.1,158.6H971.5M1007.3,362.2v7.3M1042.7,363.2v7.3M1078.0,364.3v7.3M1113.4,365.3v7.3M1148.8,366.3v7.3M1184.1,367.3v7.3M1219.5,368.4v7.3M1254.8,369.4v7.3M1274.8,365.4v7.6M1299.7,348.0v7.6M1324.5,330.7v7.6" fill="none" stroke="#4a4a4a" stroke-width="1.1"/>
<text font-size="16.3" text-anchor="end"><tspan x="955.8" y="366.7">0</tspan><tspan x="955.8" y="337.8">50</tspan><tspan x="955.8" y="308.9">100</tspan><tspan x="955.8" y="280.0">150</tspan><tspan x="955.8" y="251.0">200</tspan><tspan x="955.8" y="222.1">250</tspan><tspan x="955.8" y="193.2">300</tspan><tspan x="955.8" y="164.3">350</tspan></text>
<text font-size="16.3" text-anchor="middle"><tspan x="1003.6" y="395.1">5</tspan><tspan x="1039.0" y="396.2">10</tspan><tspan x="1074.3" y="397.2">15</tspan><tspan x="1109.7" y="398.2">20</tspan><tspan x="1145.0" y="399.2">25</tspan><tspan x="1180.4" y="400.2">30</tspan><tspan x="1215.8" y="401.3">35</tspan><tspan x="1251.1" y="402.3">40</tspan></text>
<text font-size="16.3" text-anchor="middle"><tspan x="1283.5" y="391.6">140</tspan><tspan x="1307.3" y="375">100</tspan><tspan x="1331.2" y="360">60</tspan></text>
<g fill="#000"><circle cx="1017.9" cy="342.7" r="2.2"/><circle cx="1037.2" cy="325.5" r="2.2"/><circle cx="1055.1" cy="327.7" r="2.2"/><circle cx="1057.9" cy="303.4" r="2.2"/><circle cx="1074.4" cy="310.2" r="2.2"/><circle cx="1096.2" cy="284.4" r="2.2"/><circle cx="1123.7" cy="308.4" r="2.2"/><circle cx="1143.4" cy="280.2" r="2.2"/><circle cx="1165.5" cy="242.6" r="2.2"/><circle cx="1192.0" cy="291.2" r="2.2"/><circle cx="1214.1" cy="258.0" r="2.2"/><circle cx="1235.6" cy="205.5" r="2.2"/><circle cx="1264.2" cy="279.8" r="2.2"/><circle cx="1286.0" cy="227.6" r="2.2"/><circle cx="1304.9" cy="176.9" r="2.2"/></g>
<text transform="translate(907,261.5) rotate(-90)" text-anchor="middle" font-size="20">SOA (ms)</text>
<text x="1127.8" y="430.5" text-anchor="middle" font-size="19"><tspan class="it">ΔL</tspan> (cm)</text>
<g transform="translate(1331,395) rotate(-33.5)"><text x="0" y="6.5" text-anchor="middle" font-size="19.5">Q<tspan font-size="11.5" dx="1" dy="5.5">1</tspan><tspan dy="-5.5"> (ml/s)</tspan></text></g>
<path d="M1294.4,403.9L1303.5,394.8" stroke="#231815" stroke-width="1.1"/>
<text x="1064" y="117.6" font-size="19.6">SOA = 478 <tspan class="it" dx="1.8">ΔL</tspan><tspan dx="1.2"> / </tspan><tspan class="it" dx="1.2">Q</tspan><tspan font-size="10.5" dx="0.5" dy="6.3">1</tspan></text>
<path d="M1212.8,96.6H1224.6" stroke="#231815" stroke-width="1.1"/>
<text x="1065" y="148" font-size="19.5">Adjusted R<tspan font-size="11.5" dy="-7">2</tspan><tspan dy="7"> = 0.99</tspan></text>
<text x="881.6" y="41.5" font-size="31.5" fill="#000" stroke="#000" stroke-width="0.15">b</text>
<g transform="translate(0,0)"><g fill="none" stroke="#3a3a3a" stroke-linecap="round"><path d="M228,541.4C232.5,550 233,562 229.5,575.1M259,552.1C260.5,562 263,573 264.9,581.6M221.2,589C214.5,595.5 214.5,605 223,611.1M269.1,587.1C277.5,593.5 277.5,605.5 268.2,611.1M238.3,613.3C241.5,615.3 244.5,615 247,613.6" stroke-width="1.6"/><path d="M224.2,600.2L235.9,612.9M237.6,599.9L223.2,614.2" stroke-width="2.2"/></g><path d="M166,690.8H168.8A16,16 0 0 1 184.8,706.8V751.8" fill="none" stroke="#dcdedd" stroke-width="8.8" stroke-linejoin="round"/><path d="M259.2,631V654" fill="none" stroke="#dcdedd" stroke-width="9.2" stroke-linejoin="round"/><path d="M259.2,649.5L229.7,684.8V767.4" fill="none" stroke="#dcdedd" stroke-width="8.8" stroke-linejoin="round"/><path d="M259.2,649.5L289,684.8V886" fill="none" stroke="#dcdedd" stroke-width="8.8" stroke-linejoin="round"/><path d="M352,808.8H348A14,14 0 0 0 334,822.8V870.3" fill="none" stroke="#dcdedd" stroke-width="8.8" stroke-linejoin="round"/><path d="M252.6,609.4V629.3a2,2 0 0 0 2,2H263.3a2,2 0 0 0 2,-2V609.4" fill="#fff" stroke="#444" stroke-width="1"/><ellipse cx="258.95" cy="609.4" rx="6.35" ry="2" fill="#fff" stroke="#444" stroke-width="1"/><path d="M171.3,779.7H244.4V796.4a7.5,7.5 0 0 1 -7.5,7.5H178.8a7.5,7.5 0 0 1 -7.5,-7.5Z" fill="#f5f88c"/><path d="M171.3,739.2V796.4a7.5,7.5 0 0 0 7.5,7.5H236.9a7.5,7.5 0 0 0 7.5,-7.5V739.2" fill="none" stroke="#2b2b2b" stroke-width="1.5"/><path d="M275.0,898.0H347.9V914.1a7.5,7.5 0 0 1 -7.5,7.5H282.5a7.5,7.5 0 0 1 -7.5,-7.5Z" fill="#cdb3d5"/><path d="M275.0,857.5V914.1a7.5,7.5 0 0 0 7.5,7.5H340.4a7.5,7.5 0 0 0 7.5,-7.5V857.5" fill="none" stroke="#2b2b2b" stroke-width="1.5"/><rect x="169.2" y="721.3" width="77.5" height="17.9" rx="2.5" fill="url(#lidg)" fill-opacity="0.82" stroke="#c4c4c4" stroke-width="0.9"/><path d="M169.2,738.7V723.8a2.5,2.5 0 0 1 2.5,-2.5H244.2a2.5,2.5 0 0 1 2.5,2.5V738.7" fill="none" stroke="#2b2b2b" stroke-width="1.3"/><rect x="272.9" y="839.5" width="77.3" height="18.0" rx="2.5" fill="url(#lidg)" fill-opacity="0.82" stroke="#c4c4c4" stroke-width="0.9"/><path d="M272.9,857.0V842.0a2.5,2.5 0 0 1 2.5,-2.5H347.7a2.5,2.5 0 0 1 2.5,2.5V857.0" fill="none" stroke="#2b2b2b" stroke-width="1.3"/><g opacity="0.55"><path d="M184.8,721.3V739.4" fill="none" stroke="#dcdedd" stroke-width="8.8" stroke-linejoin="round"/><path d="M229.7,721.3V739.4" fill="none" stroke="#dcdedd" stroke-width="8.8" stroke-linejoin="round"/><path d="M289,839.5V857.7" fill="none" stroke="#dcdedd" stroke-width="8.8" stroke-linejoin="round"/><path d="M334,839.5V857.7" fill="none" stroke="#dcdedd" stroke-width="8.8" stroke-linejoin="round"/></g><text font-size="16.4" text-anchor="middle"><tspan x="208.2" y="777.6">A</tspan><tspan x="311.4" y="896.1">B</tspan></text></g>
<g transform="translate(325,0)"><g fill="none" stroke="#3a3a3a" stroke-linecap="round"><path d="M228,541.4C232.5,550 233,562 229.5,575.1M259,552.1C260.5,562 263,573 264.9,581.6M221.2,589C214.5,595.5 214.5,605 223,611.1M269.1,587.1C277.5,593.5 277.5,605.5 268.2,611.1M238.3,613.3C241.5,615.3 244.5,615 247,613.6" stroke-width="1.6"/><path d="M224.2,600.2L235.9,612.9M237.6,599.9L223.2,614.2" stroke-width="2.2"/></g><path d="M166,690.8H168.8A16,16 0 0 1 184.8,706.8V751.8" fill="none" stroke="#dcdedd" stroke-width="8.8" stroke-linejoin="round"/><path d="M259.2,631V654" fill="none" stroke="#dcdedd" stroke-width="9.2" stroke-linejoin="round"/><path d="M259.2,649.5L229.7,684.8V767.4" fill="none" stroke="#dcdedd" stroke-width="8.8" stroke-linejoin="round"/><path d="M259.2,649.5L289,684.8V886" fill="none" stroke="#dcdedd" stroke-width="8.8" stroke-linejoin="round"/><path d="M352,808.8H348A14,14 0 0 0 334,822.8V870.3" fill="none" stroke="#dcdedd" stroke-width="8.8" stroke-linejoin="round"/><path d="M252.6,609.4V629.3a2,2 0 0 0 2,2H263.3a2,2 0 0 0 2,-2V609.4" fill="#fff" stroke="#444" stroke-width="1"/><ellipse cx="258.95" cy="609.4" rx="6.35" ry="2" fill="#fff" stroke="#444" stroke-width="1"/><path d="M171.3,779.7H244.4V796.4a7.5,7.5 0 0 1 -7.5,7.5H178.8a7.5,7.5 0 0 1 -7.5,-7.5Z" fill="#cdb3d5"/><path d="M171.3,739.2V796.4a7.5,7.5 0 0 0 7.5,7.5H236.9a7.5,7.5 0 0 0 7.5,-7.5V739.2" fill="none" stroke="#2b2b2b" stroke-width="1.5"/><path d="M275.0,898.0H347.9V914.1a7.5,7.5 0 0 1 -7.5,7.5H282.5a7.5,7.5 0 0 1 -7.5,-7.5Z" fill="#f5f88c"/><path d="M275.0,857.5V914.1a7.5,7.5 0 0 0 7.5,7.5H340.4a7.5,7.5 0 0 0 7.5,-7.5V857.5" fill="none" stroke="#2b2b2b" stroke-width="1.5"/><rect x="169.2" y="721.3" width="77.5" height="17.9" rx="2.5" fill="url(#lidg)" fill-opacity="0.82" stroke="#c4c4c4" stroke-width="0.9"/><path d="M169.2,738.7V723.8a2.5,2.5 0 0 1 2.5,-2.5H244.2a2.5,2.5 0 0 1 2.5,2.5V738.7" fill="none" stroke="#2b2b2b" stroke-width="1.3"/><rect x="272.9" y="839.5" width="77.3" height="18.0" rx="2.5" fill="url(#lidg)" fill-opacity="0.82" stroke="#c4c4c4" stroke-width="0.9"/><path d="M272.9,857.0V842.0a2.5,2.5 0 0 1 2.5,-2.5H347.7a2.5,2.5 0 0 1 2.5,2.5V857.0" fill="none" stroke="#2b2b2b" stroke-width="1.3"/><g opacity="0.55"><path d="M184.8,721.3V739.4" fill="none" stroke="#dcdedd" stroke-width="8.8" stroke-linejoin="round"/><path d="M229.7,721.3V739.4" fill="none" stroke="#dcdedd" stroke-width="8.8" stroke-linejoin="round"/><path d="M289,839.5V857.7" fill="none" stroke="#dcdedd" stroke-width="8.8" stroke-linejoin="round"/><path d="M334,839.5V857.7" fill="none" stroke="#dcdedd" stroke-width="8.8" stroke-linejoin="round"/></g><text font-size="16.4" text-anchor="middle"><tspan x="208.2" y="777.6">B</tspan><tspan x="311.4" y="896.1">A</tspan></text></g>
<path d="M90,726.7H548M90,844.7H607.5" stroke="#666" stroke-width="1.4" stroke-dasharray="3.1,3.1" fill="none"/>
<g transform="translate(0,0)"><use href="#valvec" x="229.6" y="724.1"/><use href="#valvec" x="289.2" y="841.2"/><use href="#arr" transform="translate(184.8,729.8) rotate(180) scale(1.72)"/><use href="#arr" transform="translate(334.0,848.7) rotate(180) scale(1.72)"/><use href="#arr" transform="translate(289.1,727.5) rotate(0) scale(1.72)"/><use href="#arr" transform="translate(244.5,667.7) rotate(37) scale(1.72)"/><use href="#sensor" transform="translate(143.9,691.2) scale(1.03,1.03)"/><path d="M140.7,704.0v4.6M146.4,704.0v4.6" stroke="#f0a637" stroke-width="2"/><path d="M140.7,708.4V796.5" stroke="#3fae2a" stroke-width="3"/><path d="M146.4,708.4V797.6" stroke="#e64c62" stroke-width="3.3"/><path d="M146.4,708.4V797.6" stroke="#f08f96" stroke-width="1.0"/><use href="#sensor" transform="translate(374.3,809.4) scale(-1.03,1.03)"/><path d="M377.2,822.2v4.6M371.5,822.2v4.6" stroke="#f0a637" stroke-width="2"/><path d="M377.2,826.6V915.0" stroke="#3fae2a" stroke-width="3"/><path d="M371.5,826.6V915.0" stroke="#e64c62" stroke-width="3.3"/><path d="M371.5,826.6V915.0" stroke="#f08f96" stroke-width="1.0"/></g>
<g transform="translate(325,0)"><use href="#valvec" x="229.6" y="724.1"/><use href="#valvec" x="289.2" y="841.2"/><use href="#arr" transform="translate(184.8,729.8) rotate(180) scale(1.72)"/><use href="#arr" transform="translate(334.0,848.7) rotate(180) scale(1.72)"/><use href="#arr" transform="translate(289.1,727.5) rotate(0) scale(1.72)"/><use href="#arr" transform="translate(244.5,667.7) rotate(37) scale(1.72)"/><use href="#sensor" transform="translate(143.9,691.2) scale(1.03,1.03)"/><path d="M140.7,704.0v4.6M146.4,704.0v4.6" stroke="#f0a637" stroke-width="2"/><path d="M140.7,708.4V796.5" stroke="#3fae2a" stroke-width="3"/><path d="M146.4,708.4V797.6" stroke="#e64c62" stroke-width="3.3"/><path d="M146.4,708.4V797.6" stroke="#f08f96" stroke-width="1.0"/><use href="#sensor" transform="translate(374.3,809.4) scale(-1.03,1.03)"/><path d="M377.2,822.2v4.6M371.5,822.2v4.6" stroke="#f0a637" stroke-width="2"/><path d="M377.2,826.6V915.0" stroke="#3fae2a" stroke-width="3"/><path d="M371.5,826.6V915.0" stroke="#e64c62" stroke-width="3.3"/><path d="M371.5,826.6V915.0" stroke="#f08f96" stroke-width="1.0"/></g>
<path d="M95.7,737V833" stroke="#231815" stroke-width="1.3"/>
<path d="M95.7,727.6L91.4,741.2L95.7,738.2L100,741.2Z" fill="#231815"/>
<path d="M95.7,842.6L91.4,829L95.7,832L100,829Z" fill="#231815"/>
<text transform="translate(83.3,785) rotate(-90)" text-anchor="middle" font-size="19.5">Δ<tspan class="it">L</tspan></text>
<text font-size="19.5"><tspan x="99.6" y="643.1">measure</tspan><tspan x="99.6" y="666.7">flow rate <tspan class="it" dx="1.5">Q</tspan><tspan class="it" font-size="11.5" dx="1" dy="4.5">s</tspan></tspan></text>
<text font-size="19.5"><tspan x="315.7" y="757">measure</tspan><tspan x="315.7" y="780.4">flow rate <tspan class="it" dx="1.5">Q</tspan><tspan class="it" font-size="11.5" dx="1" dy="4.5">l</tspan></tspan></text>
<text font-size="19.5" text-anchor="middle"><tspan x="447" y="875.3">connected to</tspan><tspan x="447" y="899">spirometer</tspan></text>
<text x="15" y="557.6" font-size="31.5" fill="#000" stroke="#000" stroke-width="0.15">c</text>
<path d="M808.3,719.8H1214M1214,634V833" stroke="#333" stroke-width="1.55" fill="none"/>
<path d="M1214,662.6h4.8M1214,690.8h4.8M1214,748.0h4.8M1214,776.6h4.8M1214,804.8h4.8" stroke="#333" stroke-width="1.1" fill="none"/>
<rect x="846.3" y="707.7" width="94.8" height="11.5" fill="#f5f88c"/><rect x="866.0" y="697.0" width="75.1" height="10.7" fill="#cdb3d5"/>
<rect x="1063.2" y="707.7" width="94.4" height="11.5" fill="#cdb3d5"/><rect x="1082.5" y="697.0" width="75.1" height="10.7" fill="#f5f88c"/>
<path d="M831.6,719.8L833.5,724.4L835.4,729.0L837.2,733.5L839.1,738.0L841.0,742.5L842.9,746.8L844.7,751.1L846.6,755.3L848.5,759.4L850.4,763.3L852.3,767.2L854.1,770.9L856.0,774.5L857.9,777.9L859.8,781.1L861.7,784.2L863.5,787.1L865.4,789.8L867.3,792.4L869.2,794.7L871.0,796.8L872.9,798.7L874.8,800.5L876.7,801.9L878.6,803.2L880.4,804.2L882.3,805.1L884.2,805.6L886.1,806.0L888.0,806.1L889.8,806.0L891.7,805.6L893.6,805.1L895.5,804.2L897.3,803.2L899.2,801.9L901.1,800.5L903.0,798.7L904.9,796.8L906.7,794.7L908.6,792.4L910.5,789.8L912.4,787.1L914.2,784.2L916.1,781.1L918.0,777.9L919.9,774.5L921.8,770.9L923.6,767.2L925.5,763.3L927.4,759.4L929.3,755.3L931.2,751.1L933.0,746.8L934.9,742.5L936.8,738.0L938.7,733.5L940.5,729.0L942.4,724.4L944.3,719.8M1048.5,719.8L1050.4,724.4L1052.3,729.0L1054.1,733.5L1056.0,738.0L1057.9,742.5L1059.8,746.8L1061.6,751.1L1063.5,755.3L1065.4,759.4L1067.3,763.3L1069.2,767.2L1071.0,770.9L1072.9,774.5L1074.8,777.9L1076.7,781.1L1078.6,784.2L1080.4,787.1L1082.3,789.8L1084.2,792.4L1086.1,794.7L1087.9,796.8L1089.8,798.7L1091.7,800.5L1093.6,801.9L1095.5,803.2L1097.3,804.2L1099.2,805.1L1101.1,805.6L1103.0,806.0L1104.8,806.1L1106.7,806.0L1108.6,805.6L1110.5,805.1L1112.4,804.2L1114.2,803.2L1116.1,801.9L1118.0,800.5L1119.9,798.7L1121.8,796.8L1123.6,794.7L1125.5,792.4L1127.4,789.8L1129.3,787.1L1131.1,784.2L1133.0,781.1L1134.9,777.9L1136.8,774.5L1138.7,770.9L1140.5,767.2L1142.4,763.3L1144.3,759.4L1146.2,755.3L1148.1,751.1L1149.9,746.8L1151.8,742.5L1153.7,738.0L1155.6,733.5L1157.4,729.0L1159.3,724.4L1161.2,719.8" fill="none" stroke="#2b2b2b" stroke-width="1"/>
<path d="M987.3,726.6L996.5,713.2M996.8,726.6L1006,713.2" stroke="#333" stroke-width="1.1"/>
<path d="M832.9,699.7V715.6" stroke="#231815" stroke-width="1.1"/><path d="M832.9,718.6l-2.6,-8l2.6,1.8l2.6,-1.8Z" fill="#231815"/><path d="M843.2,739.0V724.2" stroke="#231815" stroke-width="1.1"/><path d="M843.2,721.2l-2.6,8l2.6,-1.8l2.6,1.8Z" fill="#231815"/><path d="M942.0,737.7V724.2" stroke="#231815" stroke-width="1.1"/><path d="M942.0,721.2l-2.6,8l2.6,-1.8l2.6,1.8Z" fill="#231815"/>
<path d="M1049.8,699.7V715.6" stroke="#231815" stroke-width="1.1"/><path d="M1049.8,718.6l-2.6,-8l2.6,1.8l2.6,-1.8Z" fill="#231815"/><path d="M1059.6,739.0V724.2" stroke="#231815" stroke-width="1.1"/><path d="M1059.6,721.2l-2.6,8l2.6,-1.8l2.6,1.8Z" fill="#231815"/><path d="M1158.0,737.7V724.2" stroke="#231815" stroke-width="1.1"/><path d="M1158.0,721.2l-2.6,8l2.6,-1.8l2.6,1.8Z" fill="#231815"/>
<path d="M845.6,688.5H865.6M845.6,685.8v5.4M865.6,685.8v5.4M1062.6,688.5H1081.8M1062.6,685.8v5.4M1081.8,685.8v5.4" stroke="#231815" stroke-width="0.9" fill="none"/>
<text font-size="17.5" text-anchor="middle"><tspan x="883" y="610.8">A<tspan font-family="DejaVu Sans,sans-serif" font-size="19.5" dx="0.8">→</tspan><tspan dx="0.8">B</tspan></tspan><tspan x="1103" y="610.8">B<tspan font-family="DejaVu Sans,sans-serif" font-size="19.5" dx="0.8">→</tspan><tspan dx="0.8">A</tspan></tspan></text>
<text font-size="20"><tspan x="834.8" y="677.4">SOA</tspan><tspan x="1051.8" y="677.4">SOA</tspan></text>
<text font-size="16.6" text-anchor="middle"><tspan x="805.8" y="672.2">Sniff</tspan><tspan x="805.8" y="693.2">onset</tspan><tspan x="1022.0" y="672.2">Sniff</tspan><tspan x="1022.0" y="693.2">onset</tspan><tspan x="813.7" y="756.6">Valves</tspan><tspan x="813.7" y="775.8">open</tspan><tspan x="1030.6" y="756.6">Valves</tspan><tspan x="1030.6" y="775.8">open</tspan><tspan x="964.4" y="756.6">Valves</tspan><tspan x="964.4" y="775.8">closed</tspan><tspan x="1181.3" y="756.6">Valves</tspan><tspan x="1181.3" y="775.8">closed</tspan></text>
<text x="997" y="865.2" font-size="19" text-anchor="middle">Time</text>
<text transform="translate(1238.7,735.3) rotate(90)" text-anchor="middle" font-size="18.3">Nasal inspiratory pressure (a.u.)</text>
</svg>
</body></html>
